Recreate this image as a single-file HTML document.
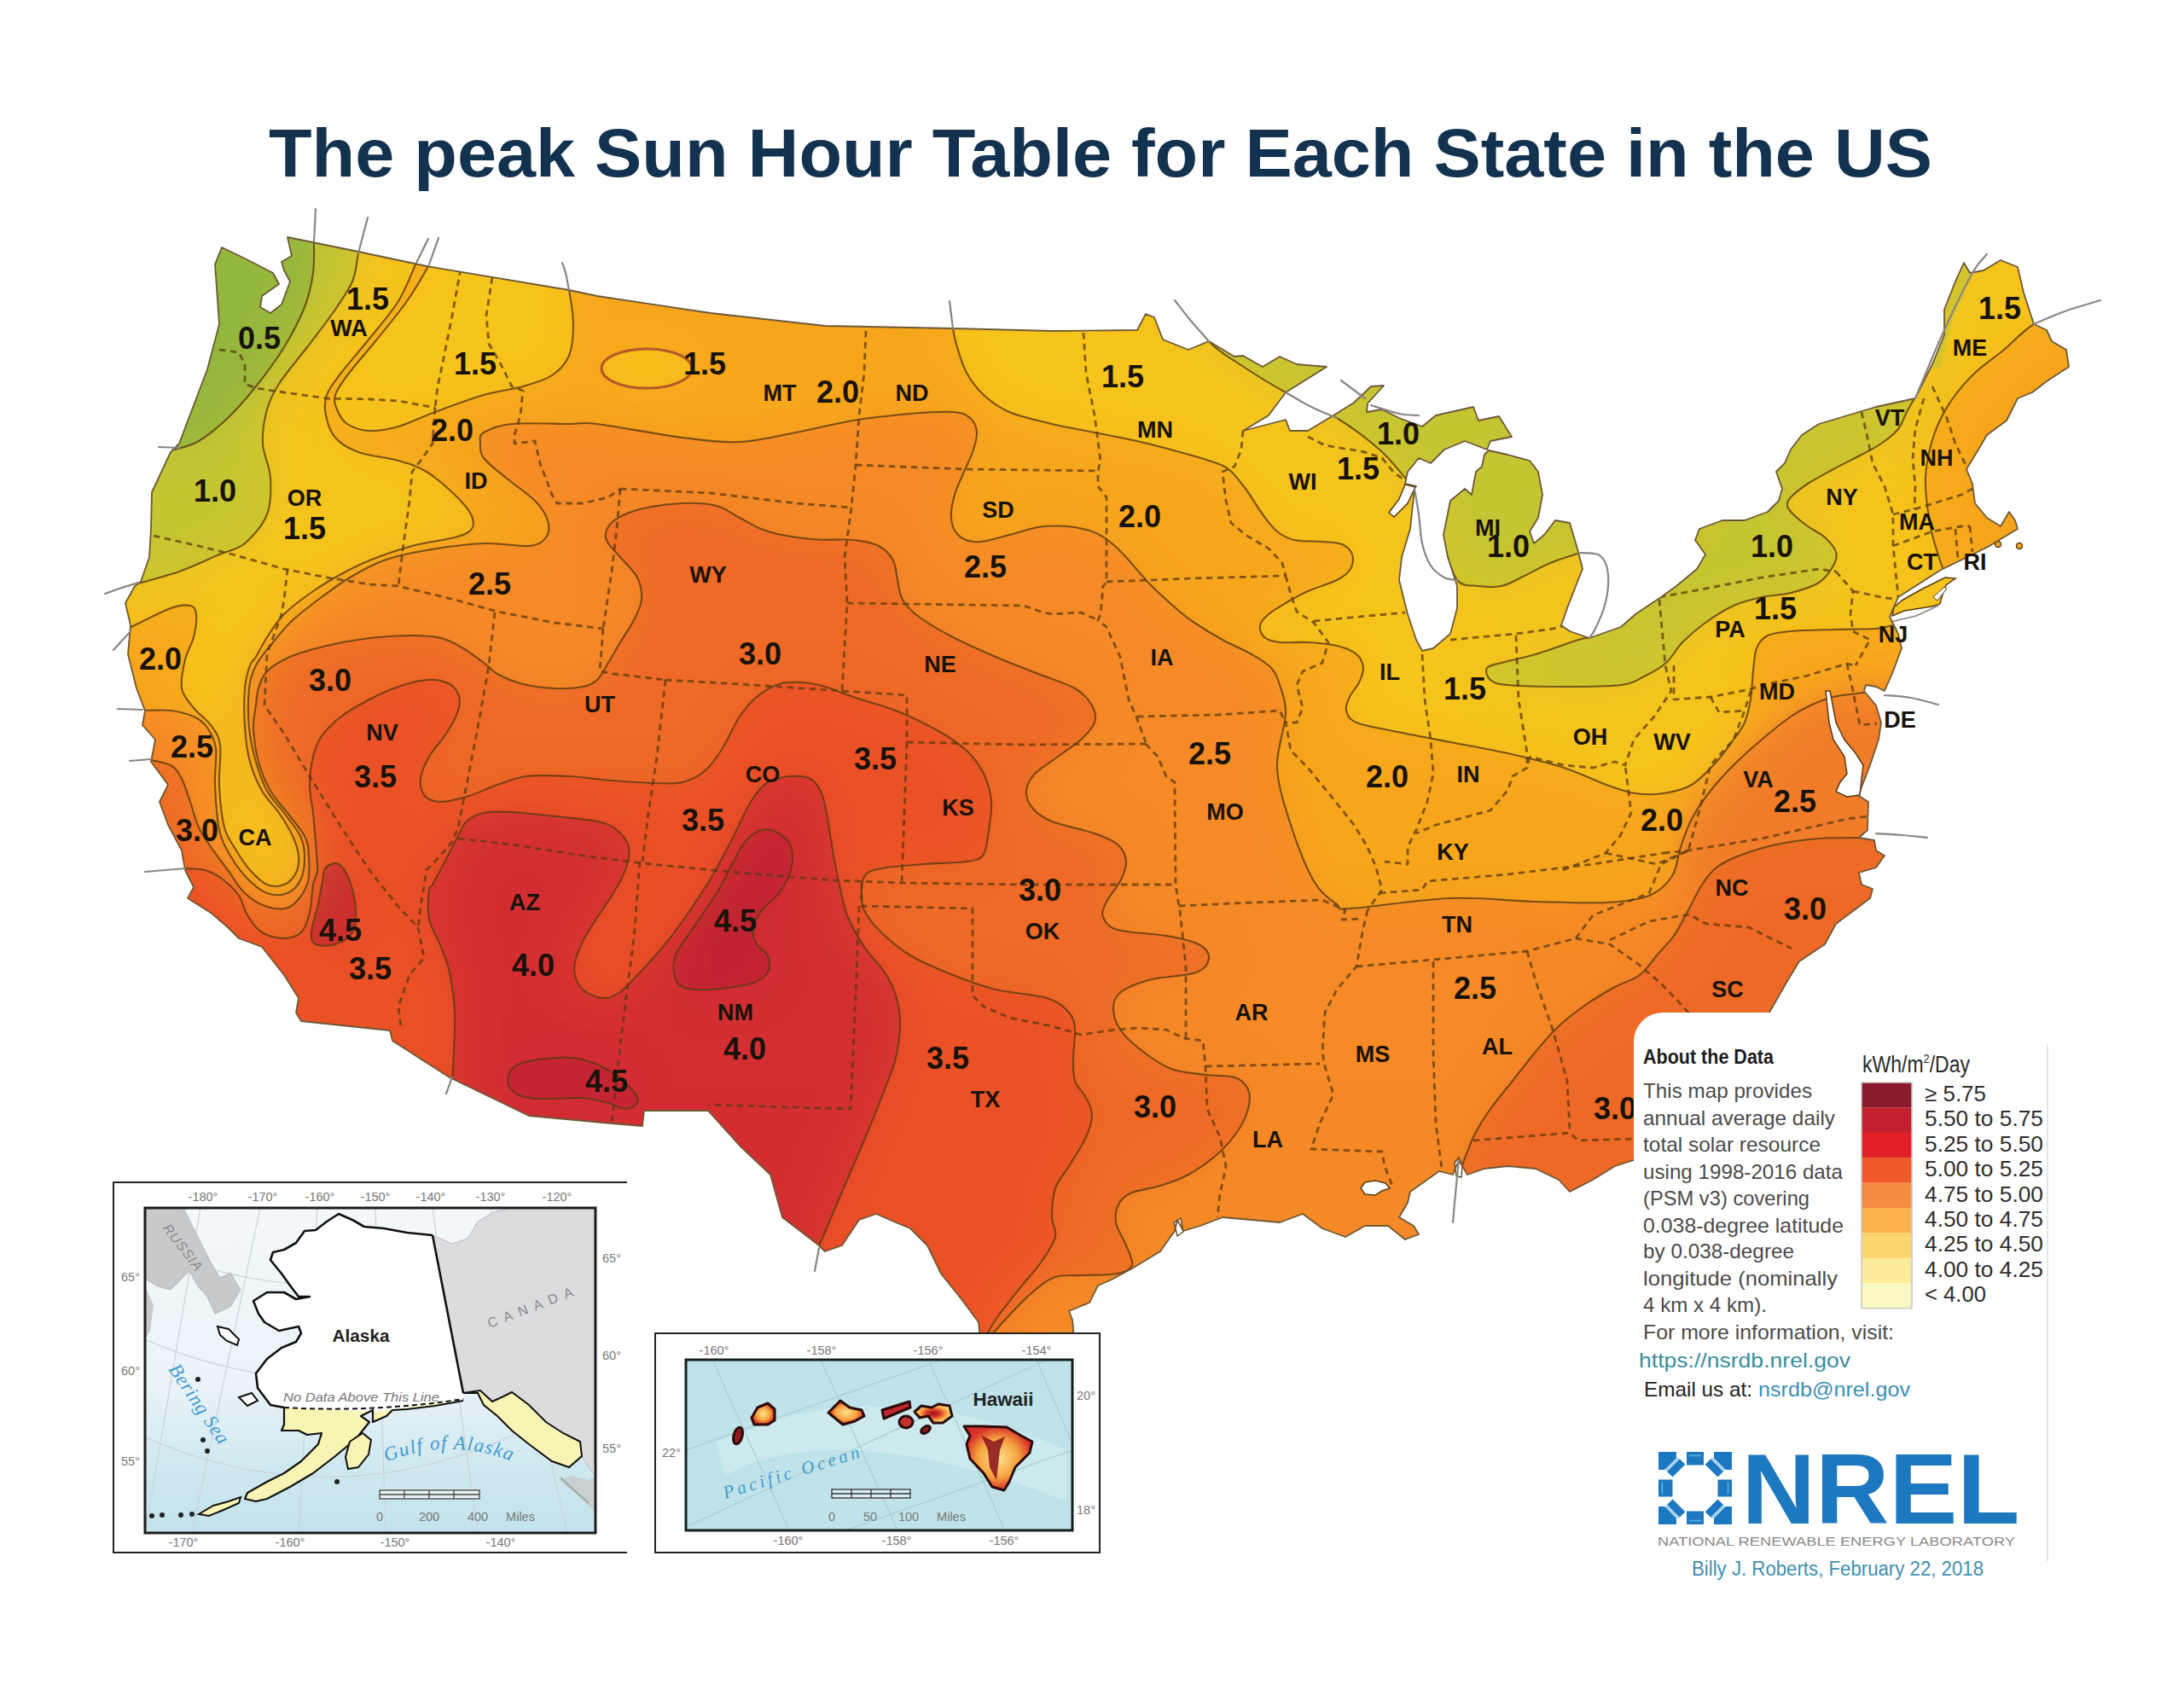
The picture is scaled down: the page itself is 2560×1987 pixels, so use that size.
<!DOCTYPE html>
<html><head><meta charset="utf-8"><title>Peak Sun Hours</title>
<style>
html,body{margin:0;padding:0;background:#fff;}
body{width:2560px;height:1987px;overflow:hidden;font-family:"Liberation Sans",sans-serif;}
svg{display:block}
text{font-family:"Liberation Sans",sans-serif;}
.st{font-weight:700;font-size:27px;fill:#17120a;text-anchor:middle}
.nm{font-weight:700;font-size:36px;fill:#17120a;text-anchor:middle}
.ser{font-family:"Liberation Serif",serif;font-style:italic}
</style></head><body>
<svg width="2560" height="1987" viewBox="0 0 2560 1987">
<defs>
<clipPath id="us"><path d="M260,290 L287,303 L320,320 L327,333 L307,347 L305,360 L317,367 L330,357 L340,330 L333,317 L330,307 L342,300 L337,278 L420,295 L500,312 L667,340 L700,347 L833,367 L967,382 L1117,385 L1233,388 L1333,387 L1343,368 L1353,372 L1363,398 L1393,410 L1417,400 L1447,418 L1457,417 L1480,430 L1500,418 L1520,427 L1555,430 L1507,460 L1487,487 L1457,505 L1507,492 L1512,505 L1533,505 L1563,487 L1587,472 L1607,453 L1622,452 L1603,473 L1602,483 L1620,480 L1640,490 L1667,500 L1683,487 L1727,477 L1733,493 L1757,488 L1772,512 L1747,517 L1743,527 L1717,517 L1693,527 L1677,543 L1663,537 L1650,553 L1647,567 L1660,570 L1658,573 L1653,620 L1643,653 L1640,680 L1650,720 L1660,750 L1667,763 L1680,760 L1700,743 L1708,713 L1708,687 L1697,653 L1692,627 L1700,587 L1717,573 L1725,580 L1730,553 L1737,547 L1740,533 L1745,528 L1767,533 L1793,540 L1803,553 L1808,580 L1803,607 L1793,623 L1798,637 L1810,627 L1823,610 L1840,613 L1850,647 L1855,667 L1847,687 L1837,713 L1830,733 L1840,740 L1863,748 L1900,735 L1917,720 L1947,700 L1965,687 L1989,667 L1999,650 L1987,633 L1992,620 L2019,610 L2045,610 L2072,600 L2085,587 L2089,573 L2082,553 L2092,543 L2099,527 L2112,510 L2132,497 L2179,483 L2199,477 L2245,467 L2265,427 L2279,393 L2279,363 L2292,330 L2302,308 L2309,320 L2325,317 L2345,305 L2365,313 L2372,343 L2384,380 L2399,387 L2405,400 L2422,410 L2425,430 L2399,447 L2382,460 L2365,467 L2352,493 L2329,510 L2319,527 L2305,550 L2312,567 L2315,590 L2329,607 L2345,617 L2355,600 L2362,610 L2365,620 L2345,632 L2332,640 L2312,650 L2275,668 L2225,700 L2215,723 L2225,743 L2229,760 L2219,787 L2209,810 L2199,805 L2187,803 L2185,810 L2199,827 L2205,847 L2202,867 L2192,897 L2182,923 L2179,933 L2190,940 L2189,973 L2179,982 L2197,985 L2199,997 L2209,1003 L2199,1017 L2179,1023 L2182,1037 L2195,1042 L2192,1053 L2152,1083 L2139,1107 L2109,1127 L2095,1150 L2075,1185 L2050,1230 L2000,1300 L1950,1380 L1915,1360 L1893,1367 L1867,1383 L1840,1397 L1827,1383 L1800,1370 L1767,1367 L1740,1370 L1720,1377 L1710,1360 L1703,1377 L1687,1373 L1653,1397 L1650,1410 L1640,1427 L1657,1437 L1663,1447 L1647,1453 L1627,1437 L1600,1437 L1577,1450 L1550,1440 L1527,1423 L1500,1433 L1467,1430 L1433,1427 L1407,1437 L1387,1443 L1380,1430 L1377,1443 L1360,1467 L1327,1487 L1303,1500 L1287,1507 L1277,1527 L1253,1537 L1257,1547 L1260,1580 L1150,1580 L1147,1550 L1127,1523 L1103,1493 L1087,1460 L1067,1440 L1050,1433 L1027,1423 L1007,1430 L987,1460 L967,1467 L960,1460 L917,1427 L903,1377 L867,1343 L830,1302 L755,1302 L753,1320 L717,1317 L620,1308 L527,1263 L460,1220 L457,1208 L353,1197 L347,1187 L350,1170 L333,1143 L307,1110 L280,1100 L267,1087 L247,1070 L220,1053 L227,1040 L217,1020 L213,997 L197,967 L187,940 L197,920 L177,893 L182,867 L167,850 L170,833 L160,807 L150,767 L153,733 L147,707 L158,687 L165,682 L175,653 L177,620 L178,577 L200,530 L210,520 L243,433 L257,380 L252,310Z"/></clipPath>
<filter id="soft" x="0" y="0" width="100%" height="100%"><feGaussianBlur stdDeviation="1.2"/></filter>
<filter id="soft8" x="-20%" y="-20%" width="140%" height="140%"><feGaussianBlur stdDeviation="14"/></filter>
<filter id="big" x="0" y="0" width="100%" height="100%"><feGaussianBlur stdDeviation="32"/></filter>
</defs>
<rect width="2560" height="1987" fill="#ffffff"/>

<text x="1290" y="207" text-anchor="middle" font-weight="700" font-size="80" fill="#12324f" textLength="1950" lengthAdjust="spacingAndGlyphs">The peak Sun Hour Table for Each State in the US</text>
<defs><g id="fills">
<rect x="-100" y="0" width="2760" height="1987" fill="#f7a61f"/>
<path d="M500,282 C498.0,286.3 493.5,296.2 488,308 C482.5,319.8 476.2,338.2 467,353 C457.8,367.8 444.2,383.0 433,397 C421.8,411.0 408.3,426.0 400,437 C391.7,448.0 386.0,454.7 383,463 C380.0,471.3 380.3,478.7 382,487 C383.7,495.3 386.7,505.8 393,513 C399.3,520.2 407.7,525.5 420,530 C432.3,534.5 453.7,536.2 467,540 C480.3,543.8 489.0,546.3 500,553 C511.0,559.7 524.3,571.7 533,580 C541.7,588.3 548.7,596.3 552,603 C555.3,609.7 556.2,615.5 553,620 C549.8,624.5 544.7,626.7 533,630 C521.3,633.3 499.7,635.5 483,640 C466.3,644.5 446.8,651.5 433,657 C419.2,662.5 411.0,667.0 400,673 C389.0,679.0 378.2,685.2 367,693 C355.8,700.8 342.0,711.0 333,720 C324.0,729.0 318.5,738.7 313,747 C307.5,755.3 303.3,764.5 300,770 C296.7,775.5 295.2,773.8 293,780 C290.8,786.2 288.0,794.8 287,807 C286.0,819.2 286.0,838.7 287,853 C288.0,867.3 289.7,880.7 293,893 C296.3,905.3 301.3,917.0 307,927 C312.7,937.0 321.0,944.2 327,953 C333.0,961.8 339.2,971.7 343,980 C346.8,988.3 349.3,995.8 350,1003 C350.7,1010.2 349.8,1017.3 347,1023 C344.2,1028.7 338.7,1034.7 333,1037 C327.3,1039.3 319.7,1039.8 313,1037 C306.3,1034.2 299.0,1026.7 293,1020 C287.0,1013.3 282.0,1005.3 277,997 C272.0,988.7 266.3,982.8 263,970 C259.7,957.2 257.8,936.2 257,920 C256.2,903.8 259.7,884.7 258,873 C256.3,861.3 252.2,857.2 247,850 C241.8,842.8 232.7,837.2 227,830 C221.3,822.8 214.7,816.5 213,807 C211.3,797.5 214.7,783.0 217,773 C219.3,763.0 224.8,755.8 227,747 C229.2,738.2 230.7,726.2 230,720 C229.3,713.8 228.0,711.2 223,710 C218.0,708.8 212.2,708.5 200,713 C187.8,717.5 158.3,733.0 150,737 L-60,737 L-60,60 L500,60Z" fill="#f6c41e"/>
<path d="M515,282 C513.0,286.7 509.3,298.2 503,310 C496.7,321.8 487.5,338.0 477,353 C466.5,368.0 451.7,385.5 440,400 C428.3,414.5 414.8,429.5 407,440 C399.2,450.5 395.0,456.3 393,463 C391.0,469.7 392.7,474.3 395,480 C397.3,485.7 400.7,492.8 407,497 C413.3,501.2 423.0,504.5 433,505 C443.0,505.5 454.2,503.7 467,500 C479.8,496.3 493.3,489.2 510,483 C526.7,476.8 549.8,468.0 567,463 C584.2,458.0 599.7,456.8 613,453 C626.3,449.2 638.0,446.0 647,440 C656.0,434.0 662.8,427.0 667,417 C671.2,407.0 672.0,392.8 672,380 C672.0,367.2 669.0,351.7 667,340 C665.0,328.3 661.2,315.0 660,310 L660,60 L515,60Z" fill="#f6c41e"/>
<path d="M1117,370 C1117.0,372.5 1116.2,378.8 1117,385 C1117.8,391.2 1119.3,398.3 1122,407 C1124.7,415.7 1127.8,427.7 1133,437 C1138.2,446.3 1144.7,455.3 1153,463 C1161.3,470.7 1169.7,477.3 1183,483 C1196.3,488.7 1216.3,493.0 1233,497 C1249.7,501.0 1266.3,503.7 1283,507 C1299.7,510.3 1316.3,513.2 1333,517 C1349.7,520.8 1369.0,526.2 1383,530 C1397.0,533.8 1407.5,536.7 1417,540 C1426.5,543.3 1432.8,544.5 1440,550 C1447.2,555.5 1453.3,564.2 1460,573 C1466.7,581.8 1473.8,594.7 1480,603 C1486.2,611.3 1490.8,618.0 1497,623 C1503.2,628.0 1508.2,631.0 1517,633 C1525.8,635.0 1540.7,634.2 1550,635 C1559.3,635.8 1567.2,635.5 1573,638 C1578.8,640.5 1583.3,645.2 1585,650 C1586.7,654.8 1586.0,662.0 1583,667 C1580.0,672.0 1575.3,675.7 1567,680 C1558.7,684.3 1543.0,688.5 1533,693 C1523.0,697.5 1514.7,702.5 1507,707 C1499.3,711.5 1492.0,715.7 1487,720 C1482.0,724.3 1477.8,728.5 1477,733 C1476.2,737.5 1478.2,743.7 1482,747 C1485.8,750.3 1491.5,752.0 1500,753 C1508.5,754.0 1521.8,752.3 1533,753 C1544.2,753.7 1557.5,754.7 1567,757 C1576.5,759.3 1584.8,762.7 1590,767 C1595.2,771.3 1597.5,777.5 1598,783 C1598.5,788.5 1595.7,794.3 1593,800 C1590.3,805.7 1584.5,811.5 1582,817 C1579.5,822.5 1576.7,828.0 1578,833 C1579.3,838.0 1580.8,843.0 1590,847 C1599.2,851.0 1614.7,853.2 1633,857 C1651.3,860.8 1677.7,865.7 1700,870 C1722.3,874.3 1744.8,878.0 1767,883 C1789.2,888.0 1813.7,893.8 1833,900 C1852.3,906.2 1869.0,915.0 1883,920 C1897.0,925.0 1905.8,928.3 1917,930 C1928.2,931.7 1939.0,931.7 1950,930 C1961.0,928.3 1972.7,926.2 1983,920 C1993.3,913.8 2003.8,901.8 2012,893 C2020.2,884.2 2026.5,874.7 2032,867 C2037.5,859.3 2041.7,854.8 2045,847 C2048.3,839.2 2050.3,830.0 2052,820 C2053.7,810.0 2053.8,797.0 2055,787 C2056.2,777.0 2056.2,767.0 2059,760 C2061.8,753.0 2065.3,748.3 2072,745 C2078.7,741.7 2086.2,741.2 2099,740 C2111.8,738.8 2132.3,738.5 2149,738 C2165.7,737.5 2187.5,737.8 2199,737 C2210.5,736.2 2214.8,733.7 2218,733 L2230,740 L2300,700 L2279,670 L2275,660 L2265,627 L2259,593 L2257,560 L2262,527 L2272,497 L2289,467 L2315,437 L2349,410 L2384,380 L2440,352 L2600,60 L1117,60Z" fill="#f6c41e"/>
<ellipse cx="758" cy="432" rx="53" ry="23" fill="#f6c41e"/>
<path d="M428,262 C426.7,267.8 422.5,285.7 420,297 C417.5,308.3 418.0,318.3 413,330 C408.0,341.7 398.8,354.2 390,367 C381.2,379.8 370.5,393.2 360,407 C349.5,420.8 334.8,437.8 327,450 C319.2,462.2 316.2,468.3 313,480 C309.8,491.7 307.3,506.7 308,520 C308.7,533.3 316.2,546.2 317,560 C317.8,573.8 318.0,590.2 313,603 C308.0,615.8 296.3,629.2 287,637 C277.7,644.8 269.8,644.5 257,650 C244.2,655.5 227.0,664.0 210,670 C193.0,676.0 164.2,683.3 155,686 L-60,686 L-60,60 L428,60Z" fill="#c4c630"/>
<path d="M368,260 C368.0,263.8 368.2,273.0 368,283 C367.8,293.0 368.8,307.2 367,320 C365.2,332.8 362.7,345.5 357,360 C351.3,374.5 342.5,391.5 333,407 C323.5,422.5 311.0,439.2 300,453 C289.0,466.8 278.2,479.3 267,490 C255.8,500.7 243.3,510.8 233,517 C222.7,523.2 209.7,525.3 205,527 L-60,527 L-60,60 L368,60Z" fill="#93b73d"/>
<path d="M1380,350 C1386.2,358.3 1405.3,387.5 1417,400 C1428.7,412.5 1435.0,415.0 1450,425 C1465.0,435.0 1487.5,449.2 1507,460 C1526.5,470.8 1548.7,478.8 1567,490 C1585.3,501.2 1603.7,515.3 1617,527 C1630.3,538.7 1639.8,552.0 1647,560 C1654.2,568.0 1652.8,568.3 1660,575 C1667.2,581.7 1684.7,589.7 1690,600 C1695.3,610.3 1689.0,623.7 1692,637 C1695.0,650.3 1701.2,671.7 1708,680 C1714.8,688.3 1724.3,685.8 1733,687 C1741.7,688.2 1751.7,688.7 1760,687 C1768.3,685.3 1773.5,681.5 1783,677 C1792.5,672.5 1805.5,664.8 1817,660 C1828.5,655.2 1846.2,650.0 1852,648 L1900,640 L1900,400 L1700,200 L1380,200Z" fill="#c4c630"/>
<path d="M1743,783 C1745.2,779.7 1750.5,779.7 1760,777 C1769.5,774.3 1785.0,771.5 1800,767 C1815.0,762.5 1839.5,753.2 1850,750 C1860.5,746.8 1854.7,756.3 1863,748 C1871.3,739.7 1878.8,724.7 1900,700 C1921.2,675.3 1956.7,636.7 1990,600 C2023.3,563.3 2057.5,506.7 2100,480 C2142.5,453.3 2221.0,442.2 2245,440 C2269.0,437.8 2245.7,459.8 2244,467 C2242.3,474.2 2238.2,477.0 2235,483 C2231.8,489.0 2230.0,496.8 2225,503 C2220.0,509.2 2212.2,515.0 2205,520 C2197.8,525.0 2191.3,528.0 2182,533 C2172.7,538.0 2159.5,544.3 2149,550 C2138.5,555.7 2127.3,561.5 2119,567 C2110.7,572.5 2103.0,578.7 2099,583 C2095.0,587.3 2094.5,589.7 2095,593 C2095.5,596.3 2098.0,599.0 2102,603 C2106.0,607.0 2112.8,612.5 2119,617 C2125.2,621.5 2133.5,625.0 2139,630 C2144.5,635.0 2150.3,641.5 2152,647 C2153.7,652.5 2152.3,657.0 2149,663 C2145.7,669.0 2140.3,677.7 2132,683 C2123.7,688.3 2110.2,692.2 2099,695 C2087.8,697.8 2076.2,697.5 2065,700 C2053.8,702.5 2043.0,705.0 2032,710 C2021.0,715.0 2009.0,722.8 1999,730 C1989.0,737.2 1979.7,745.2 1972,753 C1964.3,760.8 1960.5,770.3 1953,777 C1945.5,783.7 1935.8,788.7 1927,793 C1918.2,797.3 1915.7,801.0 1900,803 C1884.3,805.0 1855.2,805.0 1833,805 C1810.8,805.0 1781.3,804.3 1767,803 C1752.7,801.7 1751.0,800.3 1747,797 C1743.0,793.7 1740.8,786.3 1743,783Z" fill="#c4c630"/>
<path d="M2300,300 L2275,365 L2262,430 L2274,432 L2290,372 L2314,318Z" fill="#c4c630"/>
<path d="M165,833 C170.8,833.0 189.7,831.8 200,833 C210.3,834.2 219.8,836.7 227,840 C234.2,843.3 238.7,846.8 243,853 C247.3,859.2 251.5,865.8 253,877 C254.5,888.2 251.3,904.0 252,920 C252.7,936.0 254.0,959.2 257,973 C260.0,986.8 264.5,993.5 270,1003 C275.5,1012.5 282.8,1022.7 290,1030 C297.2,1037.3 305.2,1044.2 313,1047 C320.8,1049.8 330.3,1049.8 337,1047 C343.7,1044.2 349.7,1037.3 353,1030 C356.3,1022.7 357.2,1011.3 357,1003 C356.8,994.7 356.0,988.3 352,980 C348.0,971.7 339.5,961.8 333,953 C326.5,944.2 318.5,937.0 313,927 C307.5,917.0 303.5,905.3 300,893 C296.5,880.7 293.3,867.3 292,853 C290.7,838.7 290.7,819.2 292,807 C293.3,794.8 295.3,789.0 300,780 C304.7,771.0 312.8,761.8 320,753 C327.2,744.2 333.5,735.8 343,727 C352.5,718.2 365.8,708.3 377,700 C388.2,691.7 397.8,684.2 410,677 C422.2,669.8 435.0,662.3 450,657 C465.0,651.7 480.5,648.3 500,645 C519.5,641.7 547.0,637.8 567,637 C587.0,636.2 607.8,641.2 620,640 C632.2,638.8 636.3,635.0 640,630 C643.7,625.0 644.2,617.2 642,610 C639.8,602.8 635.2,595.3 627,587 C618.8,578.7 603.0,568.3 593,560 C583.0,551.7 572.0,543.7 567,537 C562.0,530.3 563.0,525.0 563,520 C563.0,515.0 560.8,510.8 567,507 C573.2,503.2 583.3,498.7 600,497 C616.7,495.3 650.3,497.0 667,497 C683.7,497.0 677.8,494.3 700,497 C722.2,499.7 772.2,509.5 800,513 C827.8,516.5 844.8,519.0 867,518 C889.2,517.0 910.8,511.2 933,507 C955.2,502.8 977.7,496.7 1000,493 C1022.3,489.3 1047.5,486.7 1067,485 C1086.5,483.3 1105.3,482.2 1117,483 C1128.7,483.8 1132.3,486.0 1137,490 C1141.7,494.0 1144.5,500.3 1145,507 C1145.5,513.7 1142.5,522.3 1140,530 C1137.5,537.7 1133.3,545.2 1130,553 C1126.7,560.8 1122.5,569.2 1120,577 C1117.5,584.8 1115.3,592.8 1115,600 C1114.7,607.2 1115.5,614.7 1118,620 C1120.5,625.3 1124.7,629.5 1130,632 C1135.3,634.5 1141.2,635.8 1150,635 C1158.8,634.2 1171.8,629.8 1183,627 C1194.2,624.2 1205.8,619.7 1217,618 C1228.2,616.3 1240.0,616.3 1250,617 C1260.0,617.7 1269.2,619.5 1277,622 C1284.8,624.5 1290.3,627.3 1297,632 C1303.7,636.7 1308.2,640.8 1317,650 C1325.8,659.2 1339.0,675.8 1350,687 C1361.0,698.2 1374.7,709.8 1383,717 C1391.3,724.2 1391.7,724.5 1400,730 C1408.3,735.5 1421.8,743.8 1433,750 C1444.2,756.2 1457.5,761.5 1467,767 C1476.5,772.5 1484.5,777.0 1490,783 C1495.5,789.0 1497.2,794.0 1500,803 C1502.8,812.0 1507.5,820.8 1507,837 C1506.5,853.2 1496.0,878.3 1497,900 C1498.0,921.7 1505.8,944.8 1513,967 C1520.2,989.2 1531.0,1017.5 1540,1033 C1549.0,1048.5 1559.8,1054.7 1567,1060 C1574.2,1065.3 1560.8,1066.2 1583,1065 C1605.2,1063.8 1663.8,1054.3 1700,1053 C1736.2,1051.7 1769.5,1056.2 1800,1057 C1830.5,1057.8 1860.8,1059.2 1883,1058 C1905.2,1056.8 1920.2,1055.2 1933,1050 C1945.8,1044.8 1953.8,1036.5 1960,1027 C1966.2,1017.5 1966.2,1004.2 1970,993 C1973.8,981.8 1977.2,971.0 1983,960 C1988.8,949.0 1996.8,937.5 2005,927 C2013.2,916.5 2022.0,907.0 2032,897 C2042.0,887.0 2053.8,876.5 2065,867 C2076.2,857.5 2089.5,846.7 2099,840 C2108.5,833.3 2113.7,830.8 2122,827 C2130.3,823.2 2138.5,819.5 2149,817 C2159.5,814.5 2179.0,812.8 2185,812 L2700,812 L2700,1900 L-60,1900 L-60,833Z" fill="#f58a27"/>
<path d="M1975,1010 C1976.3,990.8 1978.0,973.8 1983,960 C1988.0,946.2 1996.8,937.5 2005,927 C2013.2,916.5 2022.0,907.0 2032,897 C2042.0,887.0 2053.8,876.5 2065,867 C2076.2,857.5 2089.5,846.7 2099,840 C2108.5,833.3 2113.7,830.8 2122,827 C2130.3,823.2 2138.5,819.5 2149,817 C2159.5,814.5 2143.2,812.8 2185,812 C2226.8,811.2 2364.2,783.7 2400,812 C2435.8,840.3 2435.8,953.7 2400,982 C2364.2,1010.3 2229.7,981.8 2185,982 C2140.3,982.2 2149.2,981.7 2132,983 C2114.8,984.3 2097.5,986.7 2082,990 C2066.5,993.3 2050.7,998.5 2039,1003 C2027.3,1007.5 2019.3,1011.3 2012,1017 C2004.7,1022.7 2001.2,1027.3 1995,1037 C1988.8,1046.7 1978.3,1079.5 1975,1075 C1971.7,1070.5 1973.7,1029.2 1975,1010Z" fill="#f17d2a" filter="url(#soft8)"/>
<path d="M172,890 C176.7,891.2 193.2,893.2 200,897 C206.8,900.8 209.2,905.8 213,913 C216.8,920.2 219.7,930.5 223,940 C226.3,949.5 228.5,960.5 233,970 C237.5,979.5 244.3,988.7 250,997 C255.7,1005.3 260.8,1011.7 267,1020 C273.2,1028.3 279.3,1039.8 287,1047 C294.7,1054.2 304.2,1060.3 313,1063 C321.8,1065.7 332.2,1067.3 340,1063 C347.8,1058.7 356.3,1047.0 360,1037 C363.7,1027.0 362.5,1012.5 362,1003 C361.5,993.5 361.2,988.3 357,980 C352.8,971.7 343.7,961.8 337,953 C330.3,944.2 322.7,937.0 317,927 C311.3,917.0 306.3,905.3 303,893 C299.7,880.7 297.5,864.0 297,853 C296.5,842.0 299.0,834.7 300,827 C301.0,819.3 300.8,813.7 303,807 C305.2,800.3 306.8,793.2 313,787 C319.2,780.8 328.3,775.0 340,770 C351.7,765.0 367.5,760.7 383,757 C398.5,753.3 416.3,750.0 433,748 C449.7,746.0 469.0,745.0 483,745 C497.0,745.0 507.0,745.5 517,748 C527.0,750.5 534.7,755.2 543,760 C551.3,764.8 560.3,772.0 567,777 C573.7,782.0 575.3,785.8 583,790 C590.7,794.2 601.8,799.2 613,802 C624.2,804.8 638.3,806.5 650,807 C661.7,807.5 674.7,806.7 683,805 C691.3,803.3 695.0,801.7 700,797 C705.0,792.3 708.5,784.3 713,777 C717.5,769.7 722.0,761.3 727,753 C732.0,744.7 738.8,735.3 743,727 C747.2,718.7 751.3,711.3 752,703 C752.7,694.7 751.2,685.3 747,677 C742.8,668.7 732.7,659.7 727,653 C721.3,646.3 715.8,641.7 713,637 C710.2,632.3 708.8,629.5 710,625 C711.2,620.5 713.3,614.7 720,610 C726.7,605.3 736.7,600.3 750,597 C763.3,593.7 785.0,590.7 800,590 C815.0,589.3 828.8,590.2 840,593 C851.2,595.8 857.0,602.0 867,607 C877.0,612.0 886.2,618.8 900,623 C913.8,627.2 933.3,630.3 950,632 C966.7,633.7 986.7,631.7 1000,633 C1013.3,634.3 1022.2,636.0 1030,640 C1037.8,644.0 1043.3,650.3 1047,657 C1050.7,663.7 1050.2,672.3 1052,680 C1053.8,687.7 1053.8,695.8 1058,703 C1062.2,710.2 1067.2,715.7 1077,723 C1086.8,730.3 1102.0,739.2 1117,747 C1132.0,754.8 1150.3,762.8 1167,770 C1183.7,777.2 1201.5,783.8 1217,790 C1232.5,796.2 1249.5,800.8 1260,807 C1270.5,813.2 1276.2,820.3 1280,827 C1283.8,833.7 1285.2,840.3 1283,847 C1280.8,853.7 1274.2,860.3 1267,867 C1259.8,873.7 1249.0,880.3 1240,887 C1231.0,893.7 1219.2,900.3 1213,907 C1206.8,913.7 1203.5,920.3 1203,927 C1202.5,933.7 1205.0,941.0 1210,947 C1215.0,953.0 1220.8,958.0 1233,963 C1245.2,968.0 1270.2,972.5 1283,977 C1295.8,981.5 1303.8,984.5 1310,990 C1316.2,995.5 1319.5,1002.8 1320,1010 C1320.5,1017.2 1316.8,1025.2 1313,1033 C1309.2,1040.8 1300.3,1050.0 1297,1057 C1293.7,1064.0 1290.8,1069.5 1293,1075 C1295.2,1080.5 1297.7,1086.3 1310,1090 C1322.3,1093.7 1351.2,1094.2 1367,1097 C1382.8,1099.8 1396.7,1102.7 1405,1107 C1413.3,1111.3 1417.5,1117.5 1417,1123 C1416.5,1128.5 1413.2,1135.8 1402,1140 C1390.8,1144.2 1364.5,1144.3 1350,1148 C1335.5,1151.7 1322.5,1156.7 1315,1162 C1307.5,1167.3 1305.3,1172.5 1305,1180 C1304.7,1187.5 1307.2,1198.2 1313,1207 C1318.8,1215.8 1330.0,1225.3 1340,1233 C1350.0,1240.7 1360.8,1248.5 1373,1253 C1385.2,1257.5 1400.7,1258.3 1413,1260 C1425.3,1261.7 1438.7,1260.2 1447,1263 C1455.3,1265.8 1460.3,1270.8 1463,1277 C1465.7,1283.2 1465.2,1291.7 1463,1300 C1460.8,1308.3 1456.0,1318.2 1450,1327 C1444.0,1335.8 1436.5,1344.7 1427,1353 C1417.5,1361.3 1404.2,1370.8 1393,1377 C1381.8,1383.2 1371.0,1386.5 1360,1390 C1349.0,1393.5 1335.0,1394.7 1327,1398 C1319.0,1401.3 1315.2,1404.2 1312,1410 C1308.8,1415.8 1306.7,1424.7 1308,1433 C1309.3,1441.3 1316.8,1451.7 1320,1460 C1323.2,1468.3 1328.7,1477.5 1327,1483 C1325.3,1488.5 1319.5,1491.0 1310,1493 C1300.5,1495.0 1282.2,1494.3 1270,1495 C1257.8,1495.7 1247.0,1493.7 1237,1497 C1227.0,1500.3 1219.5,1507.0 1210,1515 C1200.5,1523.0 1188.3,1536.2 1180,1545 C1171.7,1553.8 1163.3,1564.2 1160,1568 L1160,1900 L-60,1900 L-60,890Z" fill="#ee6b27"/>
<path d="M2185,982 C2176.2,982.2 2149.2,981.7 2132,983 C2114.8,984.3 2097.5,986.7 2082,990 C2066.5,993.3 2050.7,998.5 2039,1003 C2027.3,1007.5 2019.3,1011.3 2012,1017 C2004.7,1022.7 2000.5,1028.7 1995,1037 C1989.5,1045.3 1984.5,1057.0 1979,1067 C1973.5,1077.0 1968.2,1088.2 1962,1097 C1955.8,1105.8 1948.7,1112.3 1942,1120 C1935.3,1127.7 1930.2,1136.8 1922,1143 C1913.8,1149.2 1903.3,1151.3 1893,1157 C1882.7,1162.7 1871.0,1169.3 1860,1177 C1849.0,1184.7 1837.0,1193.7 1827,1203 C1817.0,1212.3 1809.0,1222.3 1800,1233 C1791.0,1243.7 1781.8,1255.8 1773,1267 C1764.2,1278.2 1754.2,1290.0 1747,1300 C1739.8,1310.0 1734.5,1318.7 1730,1327 C1725.5,1335.3 1723.0,1342.5 1720,1350 C1717.0,1357.5 1713.3,1368.3 1712,1372 L1712,1700 L2700,1700 L2700,982Z" fill="#ee6b27"/>
<path d="M212,1018 C216.7,1018.3 232.0,1018.0 240,1020 C248.0,1022.0 253.3,1025.0 260,1030 C266.7,1035.0 275.0,1042.8 280,1050 C285.0,1057.2 285.5,1065.8 290,1073 C294.5,1080.2 299.8,1088.5 307,1093 C314.2,1097.5 325.3,1100.0 333,1100 C340.7,1100.0 348.0,1098.0 353,1093 C358.0,1088.0 360.7,1079.3 363,1070 C365.3,1060.7 365.5,1045.3 367,1037 C368.5,1028.7 371.5,1028.3 372,1020 C372.5,1011.7 370.8,998.2 370,987 C369.2,975.8 368.2,964.2 367,953 C365.8,941.8 363.0,931.0 363,920 C363.0,909.0 364.7,896.5 367,887 C369.3,877.5 371.5,870.8 377,863 C382.5,855.2 390.7,847.2 400,840 C409.3,832.8 421.8,825.8 433,820 C444.2,814.2 455.8,808.8 467,805 C478.2,801.2 490.7,797.8 500,797 C509.3,796.2 516.8,797.3 523,800 C529.2,802.7 534.7,807.5 537,813 C539.3,818.5 539.3,825.2 537,833 C534.7,840.8 528.7,851.0 523,860 C517.3,869.0 508.0,878.2 503,887 C498.0,895.8 493.8,905.3 493,913 C492.2,920.7 494.0,928.5 498,933 C502.0,937.5 508.3,940.0 517,940 C525.7,940.0 539.0,936.3 550,933 C561.0,929.7 571.8,923.8 583,920 C594.2,916.2 603.0,911.7 617,910 C631.0,908.3 650.3,909.2 667,910 C683.7,910.8 700.3,913.7 717,915 C733.7,916.3 753.2,917.7 767,918 C780.8,918.3 790.0,919.5 800,917 C810.0,914.5 819.2,909.7 827,903 C834.8,896.3 840.3,887.5 847,877 C853.7,866.5 860.3,850.0 867,840 C873.7,830.0 879.3,823.3 887,817 C894.7,810.7 904.2,804.8 913,802 C921.8,799.2 931.0,799.5 940,800 C949.0,800.5 957.0,802.2 967,805 C977.0,807.8 986.2,812.3 1000,817 C1013.8,821.7 1033.3,826.3 1050,833 C1066.7,839.7 1086.2,849.2 1100,857 C1113.8,864.8 1124.2,871.7 1133,880 C1141.8,888.3 1148.2,897.0 1153,907 C1157.8,917.0 1161.2,927.8 1162,940 C1162.8,952.2 1159.7,969.5 1158,980 C1156.3,990.5 1156.2,998.0 1152,1003 C1147.8,1008.0 1144.5,1008.3 1133,1010 C1121.5,1011.7 1098.5,1011.8 1083,1013 C1067.5,1014.2 1051.0,1015.3 1040,1017 C1029.0,1018.7 1022.0,1019.2 1017,1023 C1012.0,1026.8 1010.7,1032.7 1010,1040 C1009.3,1047.3 1009.2,1058.2 1013,1067 C1016.8,1075.8 1024.0,1084.2 1033,1093 C1042.0,1101.8 1053.0,1111.7 1067,1120 C1081.0,1128.3 1100.3,1136.3 1117,1143 C1133.7,1149.7 1148.7,1155.5 1167,1160 C1185.3,1164.5 1212.7,1165.5 1227,1170 C1241.3,1174.5 1247.5,1180.8 1253,1187 C1258.5,1193.2 1259.2,1198.2 1260,1207 C1260.8,1215.8 1258.0,1230.0 1258,1240 C1258.0,1250.0 1257.5,1259.2 1260,1267 C1262.5,1274.8 1269.7,1280.3 1273,1287 C1276.3,1293.7 1280.0,1299.3 1280,1307 C1280.0,1314.7 1277.5,1323.0 1273,1333 C1268.5,1343.0 1259.0,1357.0 1253,1367 C1247.0,1377.0 1240.3,1383.0 1237,1393 C1233.7,1403.0 1233.0,1417.5 1233,1427 C1233.0,1436.5 1239.2,1441.2 1237,1450 C1234.8,1458.8 1227.3,1469.5 1220,1480 C1212.7,1490.5 1201.8,1501.8 1193,1513 C1184.2,1524.2 1173.3,1537.8 1167,1547 C1160.7,1556.2 1157.0,1564.5 1155,1568 L1155,1900 L-60,1900 L-60,1018Z" fill="#eb5127"/>
<path d="M530,1270 C530.3,1263.8 531.5,1246.8 532,1233 C532.5,1219.2 533.8,1202.5 533,1187 C532.2,1171.5 529.7,1152.8 527,1140 C524.3,1127.2 521.0,1120.5 517,1110 C513.0,1099.5 505.3,1088.2 503,1077 C500.7,1065.8 502.3,1049.7 503,1043 C503.7,1036.3 503.7,1043.0 507,1037 C510.3,1031.0 518.0,1016.5 523,1007 C528.0,997.5 533.0,987.3 537,980 C541.0,972.7 542.0,967.5 547,963 C552.0,958.5 558.2,954.8 567,953 C575.8,951.2 586.2,951.3 600,952 C613.8,952.7 633.3,955.2 650,957 C666.7,958.8 687.8,960.3 700,963 C712.2,965.7 716.8,968.0 723,973 C729.2,978.0 735.3,985.2 737,993 C738.7,1000.8 736.3,1010.5 733,1020 C729.7,1029.5 723.0,1040.0 717,1050 C711.0,1060.0 703.2,1070.0 697,1080 C690.8,1090.0 684.0,1100.5 680,1110 C676.0,1119.5 672.5,1128.7 673,1137 C673.5,1145.3 677.3,1154.5 683,1160 C688.7,1165.5 699.7,1169.5 707,1170 C714.3,1170.5 719.8,1168.0 727,1163 C734.2,1158.0 741.7,1148.8 750,1140 C758.3,1131.2 768.7,1120.0 777,1110 C785.3,1100.0 790.7,1093.3 800,1080 C809.3,1066.7 823.0,1046.7 833,1030 C843.0,1013.3 852.2,995.0 860,980 C867.8,965.0 873.3,950.5 880,940 C886.7,929.5 892.2,922.0 900,917 C907.8,912.0 918.7,910.7 927,910 C935.3,909.3 944.0,909.7 950,913 C956.0,916.3 959.7,922.2 963,930 C966.3,937.8 967.7,947.8 970,960 C972.3,972.2 974.8,990.8 977,1003 C979.2,1015.2 980.3,1021.3 983,1033 C985.7,1044.7 988.0,1060.2 993,1073 C998.0,1085.8 1005.7,1098.8 1013,1110 C1020.3,1121.2 1030.8,1130.5 1037,1140 C1043.2,1149.5 1047.0,1157.0 1050,1167 C1053.0,1177.0 1055.0,1187.8 1055,1200 C1055.0,1212.2 1053.0,1227.2 1050,1240 C1047.0,1252.8 1042.5,1262.5 1037,1277 C1031.5,1291.5 1024.3,1309.3 1017,1327 C1009.7,1344.7 1000.3,1365.8 993,1383 C985.7,1400.2 978.8,1416.3 973,1430 C967.2,1443.7 960.5,1459.2 958,1465 L900,1560 L600,1450 L530,1350Z" fill="#d32f33"/>
<path d="M873,987 C878.5,980.8 886.3,974.7 893,973 C899.7,971.3 907.3,973.7 913,977 C918.7,980.3 924.7,985.8 927,993 C929.3,1000.2 929.3,1011.0 927,1020 C924.7,1029.0 918.7,1039.2 913,1047 C907.3,1054.8 898.0,1060.3 893,1067 C888.0,1073.7 884.0,1080.3 883,1087 C882.0,1093.7 884.2,1101.5 887,1107 C889.8,1112.5 897.8,1114.5 900,1120 C902.2,1125.5 903.3,1134.5 900,1140 C896.7,1145.5 891.2,1149.7 880,1153 C868.8,1156.3 846.3,1159.3 833,1160 C819.7,1160.7 807.2,1160.3 800,1157 C792.8,1153.7 791.2,1146.7 790,1140 C788.8,1133.3 789.2,1125.8 793,1117 C796.8,1108.2 805.2,1098.7 813,1087 C820.8,1075.3 832.2,1059.8 840,1047 C847.8,1034.2 854.5,1020.0 860,1010 C865.5,1000.0 867.5,993.2 873,987Z" fill="#c02331"/>
<path d="M595,1267 C595.0,1261.2 597.8,1252.5 607,1248 C616.2,1243.5 637.3,1241.0 650,1240 C662.7,1239.0 671.8,1239.2 683,1242 C694.2,1244.8 707.0,1250.7 717,1257 C727.0,1263.3 738.0,1274.0 743,1280 C748.0,1286.0 748.7,1289.7 747,1293 C745.3,1296.3 738.7,1300.0 733,1300 C727.3,1300.0 721.3,1295.2 713,1293 C704.7,1290.8 696.3,1287.8 683,1287 C669.7,1286.2 645.7,1288.7 633,1288 C620.3,1287.3 613.3,1286.5 607,1283 C600.7,1279.5 595.0,1272.8 595,1267Z" fill="#c02331"/>
<path d="M382,1017 C385.2,1013.7 392.3,1010.3 397,1013 C401.7,1015.7 406.7,1024.0 410,1033 C413.3,1042.0 416.5,1057.0 417,1067 C417.5,1077.0 417.0,1086.3 413,1093 C409.0,1099.7 400.2,1104.7 393,1107 C385.8,1109.3 374.7,1109.3 370,1107 C365.3,1104.7 364.5,1100.8 365,1093 C365.5,1085.2 370.8,1070.0 373,1060 C375.2,1050.0 376.5,1040.2 378,1033 C379.5,1025.8 378.8,1020.3 382,1017Z" fill="#c02331"/>
</g></defs>
<g clip-path="url(#us)"><use href="#fills" filter="url(#big)"/><use href="#fills" opacity="0.62" filter="url(#soft)"/></g>
<g fill="none" stroke="#5a3a12" stroke-opacity="0.8" stroke-width="2.1" stroke-linejoin="round" stroke-linecap="round">
<g clip-path="url(#us)">
<path d="M368,260 C368.0,263.8 368.2,273.0 368,283 C367.8,293.0 368.8,307.2 367,320 C365.2,332.8 362.7,345.5 357,360 C351.3,374.5 342.5,391.5 333,407 C323.5,422.5 311.0,439.2 300,453 C289.0,466.8 278.2,479.3 267,490 C255.8,500.7 243.3,510.8 233,517 C222.7,523.2 209.7,525.3 205,527"/>
<path d="M428,262 C426.7,267.8 422.5,285.7 420,297 C417.5,308.3 418.0,318.3 413,330 C408.0,341.7 398.8,354.2 390,367 C381.2,379.8 370.5,393.2 360,407 C349.5,420.8 334.8,437.8 327,450 C319.2,462.2 316.2,468.3 313,480 C309.8,491.7 307.3,506.7 308,520 C308.7,533.3 316.2,546.2 317,560 C317.8,573.8 318.0,590.2 313,603 C308.0,615.8 296.3,629.2 287,637 C277.7,644.8 269.8,644.5 257,650 C244.2,655.5 227.0,664.0 210,670 C193.0,676.0 164.2,683.3 155,686"/>
<path d="M500,282 C498.0,286.3 493.5,296.2 488,308 C482.5,319.8 476.2,338.2 467,353 C457.8,367.8 444.2,383.0 433,397 C421.8,411.0 408.3,426.0 400,437 C391.7,448.0 386.0,454.7 383,463 C380.0,471.3 380.3,478.7 382,487 C383.7,495.3 386.7,505.8 393,513 C399.3,520.2 407.7,525.5 420,530 C432.3,534.5 453.7,536.2 467,540 C480.3,543.8 489.0,546.3 500,553 C511.0,559.7 524.3,571.7 533,580 C541.7,588.3 548.7,596.3 552,603 C555.3,609.7 556.2,615.5 553,620 C549.8,624.5 544.7,626.7 533,630 C521.3,633.3 499.7,635.5 483,640 C466.3,644.5 446.8,651.5 433,657 C419.2,662.5 411.0,667.0 400,673 C389.0,679.0 378.2,685.2 367,693 C355.8,700.8 342.0,711.0 333,720 C324.0,729.0 318.5,738.7 313,747 C307.5,755.3 303.3,764.5 300,770 C296.7,775.5 295.2,773.8 293,780 C290.8,786.2 288.0,794.8 287,807 C286.0,819.2 286.0,838.7 287,853 C288.0,867.3 289.7,880.7 293,893 C296.3,905.3 301.3,917.0 307,927 C312.7,937.0 321.0,944.2 327,953 C333.0,961.8 339.2,971.7 343,980 C346.8,988.3 349.3,995.8 350,1003 C350.7,1010.2 349.8,1017.3 347,1023 C344.2,1028.7 338.7,1034.7 333,1037 C327.3,1039.3 319.7,1039.8 313,1037 C306.3,1034.2 299.0,1026.7 293,1020 C287.0,1013.3 282.0,1005.3 277,997 C272.0,988.7 266.3,982.8 263,970 C259.7,957.2 257.8,936.2 257,920 C256.2,903.8 259.7,884.7 258,873 C256.3,861.3 252.2,857.2 247,850 C241.8,842.8 232.7,837.2 227,830 C221.3,822.8 214.7,816.5 213,807 C211.3,797.5 214.7,783.0 217,773 C219.3,763.0 224.8,755.8 227,747 C229.2,738.2 230.7,726.2 230,720 C229.3,713.8 228.0,711.2 223,710 C218.0,708.8 212.2,708.5 200,713 C187.8,717.5 158.3,733.0 150,737"/>
<path d="M515,282 C513.0,286.7 509.3,298.2 503,310 C496.7,321.8 487.5,338.0 477,353 C466.5,368.0 451.7,385.5 440,400 C428.3,414.5 414.8,429.5 407,440 C399.2,450.5 395.0,456.3 393,463 C391.0,469.7 392.7,474.3 395,480 C397.3,485.7 400.7,492.8 407,497 C413.3,501.2 423.0,504.5 433,505 C443.0,505.5 454.2,503.7 467,500 C479.8,496.3 493.3,489.2 510,483 C526.7,476.8 549.8,468.0 567,463 C584.2,458.0 599.7,456.8 613,453 C626.3,449.2 638.0,446.0 647,440 C656.0,434.0 662.8,427.0 667,417 C671.2,407.0 672.0,392.8 672,380 C672.0,367.2 669.0,351.7 667,340 C665.0,328.3 661.2,315.0 660,310"/>
<path d="M165,833 C170.8,833.0 189.7,831.8 200,833 C210.3,834.2 219.8,836.7 227,840 C234.2,843.3 238.7,846.8 243,853 C247.3,859.2 251.5,865.8 253,877 C254.5,888.2 251.3,904.0 252,920 C252.7,936.0 254.0,959.2 257,973 C260.0,986.8 264.5,993.5 270,1003 C275.5,1012.5 282.8,1022.7 290,1030 C297.2,1037.3 305.2,1044.2 313,1047 C320.8,1049.8 330.3,1049.8 337,1047 C343.7,1044.2 349.7,1037.3 353,1030 C356.3,1022.7 357.2,1011.3 357,1003 C356.8,994.7 356.0,988.3 352,980 C348.0,971.7 339.5,961.8 333,953 C326.5,944.2 318.5,937.0 313,927 C307.5,917.0 303.5,905.3 300,893 C296.5,880.7 293.3,867.3 292,853 C290.7,838.7 290.7,819.2 292,807 C293.3,794.8 295.3,789.0 300,780 C304.7,771.0 312.8,761.8 320,753 C327.2,744.2 333.5,735.8 343,727 C352.5,718.2 365.8,708.3 377,700 C388.2,691.7 397.8,684.2 410,677 C422.2,669.8 435.0,662.3 450,657 C465.0,651.7 480.5,648.3 500,645 C519.5,641.7 547.0,637.8 567,637 C587.0,636.2 607.8,641.2 620,640 C632.2,638.8 636.3,635.0 640,630 C643.7,625.0 644.2,617.2 642,610 C639.8,602.8 635.2,595.3 627,587 C618.8,578.7 603.0,568.3 593,560 C583.0,551.7 572.0,543.7 567,537 C562.0,530.3 563.0,525.0 563,520 C563.0,515.0 560.8,510.8 567,507 C573.2,503.2 583.3,498.7 600,497 C616.7,495.3 650.3,497.0 667,497 C683.7,497.0 677.8,494.3 700,497 C722.2,499.7 772.2,509.5 800,513 C827.8,516.5 844.8,519.0 867,518 C889.2,517.0 910.8,511.2 933,507 C955.2,502.8 977.7,496.7 1000,493 C1022.3,489.3 1047.5,486.7 1067,485 C1086.5,483.3 1105.3,482.2 1117,483 C1128.7,483.8 1132.3,486.0 1137,490 C1141.7,494.0 1144.5,500.3 1145,507 C1145.5,513.7 1142.5,522.3 1140,530 C1137.5,537.7 1133.3,545.2 1130,553 C1126.7,560.8 1122.5,569.2 1120,577 C1117.5,584.8 1115.3,592.8 1115,600 C1114.7,607.2 1115.5,614.7 1118,620 C1120.5,625.3 1124.7,629.5 1130,632 C1135.3,634.5 1141.2,635.8 1150,635 C1158.8,634.2 1171.8,629.8 1183,627 C1194.2,624.2 1205.8,619.7 1217,618 C1228.2,616.3 1240.0,616.3 1250,617 C1260.0,617.7 1269.2,619.5 1277,622 C1284.8,624.5 1290.3,627.3 1297,632 C1303.7,636.7 1308.2,640.8 1317,650 C1325.8,659.2 1339.0,675.8 1350,687 C1361.0,698.2 1374.7,709.8 1383,717 C1391.3,724.2 1391.7,724.5 1400,730 C1408.3,735.5 1421.8,743.8 1433,750 C1444.2,756.2 1457.5,761.5 1467,767 C1476.5,772.5 1484.5,777.0 1490,783 C1495.5,789.0 1497.2,794.0 1500,803 C1502.8,812.0 1507.5,820.8 1507,837 C1506.5,853.2 1496.0,878.3 1497,900 C1498.0,921.7 1505.8,944.8 1513,967 C1520.2,989.2 1531.0,1017.5 1540,1033 C1549.0,1048.5 1559.8,1054.7 1567,1060 C1574.2,1065.3 1560.8,1066.2 1583,1065 C1605.2,1063.8 1663.8,1054.3 1700,1053 C1736.2,1051.7 1769.5,1056.2 1800,1057 C1830.5,1057.8 1860.8,1059.2 1883,1058 C1905.2,1056.8 1920.2,1055.2 1933,1050 C1945.8,1044.8 1953.8,1036.5 1960,1027 C1966.2,1017.5 1966.2,1004.2 1970,993 C1973.8,981.8 1977.2,971.0 1983,960 C1988.8,949.0 1996.8,937.5 2005,927 C2013.2,916.5 2022.0,907.0 2032,897 C2042.0,887.0 2053.8,876.5 2065,867 C2076.2,857.5 2089.5,846.7 2099,840 C2108.5,833.3 2113.7,830.8 2122,827 C2130.3,823.2 2138.5,819.5 2149,817 C2159.5,814.5 2179.0,812.8 2185,812"/>
<path d="M172,890 C176.7,891.2 193.2,893.2 200,897 C206.8,900.8 209.2,905.8 213,913 C216.8,920.2 219.7,930.5 223,940 C226.3,949.5 228.5,960.5 233,970 C237.5,979.5 244.3,988.7 250,997 C255.7,1005.3 260.8,1011.7 267,1020 C273.2,1028.3 279.3,1039.8 287,1047 C294.7,1054.2 304.2,1060.3 313,1063 C321.8,1065.7 332.2,1067.3 340,1063 C347.8,1058.7 356.3,1047.0 360,1037 C363.7,1027.0 362.5,1012.5 362,1003 C361.5,993.5 361.2,988.3 357,980 C352.8,971.7 343.7,961.8 337,953 C330.3,944.2 322.7,937.0 317,927 C311.3,917.0 306.3,905.3 303,893 C299.7,880.7 297.5,864.0 297,853 C296.5,842.0 299.0,834.7 300,827 C301.0,819.3 300.8,813.7 303,807 C305.2,800.3 306.8,793.2 313,787 C319.2,780.8 328.3,775.0 340,770 C351.7,765.0 367.5,760.7 383,757 C398.5,753.3 416.3,750.0 433,748 C449.7,746.0 469.0,745.0 483,745 C497.0,745.0 507.0,745.5 517,748 C527.0,750.5 534.7,755.2 543,760 C551.3,764.8 560.3,772.0 567,777 C573.7,782.0 575.3,785.8 583,790 C590.7,794.2 601.8,799.2 613,802 C624.2,804.8 638.3,806.5 650,807 C661.7,807.5 674.7,806.7 683,805 C691.3,803.3 695.0,801.7 700,797 C705.0,792.3 708.5,784.3 713,777 C717.5,769.7 722.0,761.3 727,753 C732.0,744.7 738.8,735.3 743,727 C747.2,718.7 751.3,711.3 752,703 C752.7,694.7 751.2,685.3 747,677 C742.8,668.7 732.7,659.7 727,653 C721.3,646.3 715.8,641.7 713,637 C710.2,632.3 708.8,629.5 710,625 C711.2,620.5 713.3,614.7 720,610 C726.7,605.3 736.7,600.3 750,597 C763.3,593.7 785.0,590.7 800,590 C815.0,589.3 828.8,590.2 840,593 C851.2,595.8 857.0,602.0 867,607 C877.0,612.0 886.2,618.8 900,623 C913.8,627.2 933.3,630.3 950,632 C966.7,633.7 986.7,631.7 1000,633 C1013.3,634.3 1022.2,636.0 1030,640 C1037.8,644.0 1043.3,650.3 1047,657 C1050.7,663.7 1050.2,672.3 1052,680 C1053.8,687.7 1053.8,695.8 1058,703 C1062.2,710.2 1067.2,715.7 1077,723 C1086.8,730.3 1102.0,739.2 1117,747 C1132.0,754.8 1150.3,762.8 1167,770 C1183.7,777.2 1201.5,783.8 1217,790 C1232.5,796.2 1249.5,800.8 1260,807 C1270.5,813.2 1276.2,820.3 1280,827 C1283.8,833.7 1285.2,840.3 1283,847 C1280.8,853.7 1274.2,860.3 1267,867 C1259.8,873.7 1249.0,880.3 1240,887 C1231.0,893.7 1219.2,900.3 1213,907 C1206.8,913.7 1203.5,920.3 1203,927 C1202.5,933.7 1205.0,941.0 1210,947 C1215.0,953.0 1220.8,958.0 1233,963 C1245.2,968.0 1270.2,972.5 1283,977 C1295.8,981.5 1303.8,984.5 1310,990 C1316.2,995.5 1319.5,1002.8 1320,1010 C1320.5,1017.2 1316.8,1025.2 1313,1033 C1309.2,1040.8 1300.3,1050.0 1297,1057 C1293.7,1064.0 1290.8,1069.5 1293,1075 C1295.2,1080.5 1297.7,1086.3 1310,1090 C1322.3,1093.7 1351.2,1094.2 1367,1097 C1382.8,1099.8 1396.7,1102.7 1405,1107 C1413.3,1111.3 1417.5,1117.5 1417,1123 C1416.5,1128.5 1413.2,1135.8 1402,1140 C1390.8,1144.2 1364.5,1144.3 1350,1148 C1335.5,1151.7 1322.5,1156.7 1315,1162 C1307.5,1167.3 1305.3,1172.5 1305,1180 C1304.7,1187.5 1307.2,1198.2 1313,1207 C1318.8,1215.8 1330.0,1225.3 1340,1233 C1350.0,1240.7 1360.8,1248.5 1373,1253 C1385.2,1257.5 1400.7,1258.3 1413,1260 C1425.3,1261.7 1438.7,1260.2 1447,1263 C1455.3,1265.8 1460.3,1270.8 1463,1277 C1465.7,1283.2 1465.2,1291.7 1463,1300 C1460.8,1308.3 1456.0,1318.2 1450,1327 C1444.0,1335.8 1436.5,1344.7 1427,1353 C1417.5,1361.3 1404.2,1370.8 1393,1377 C1381.8,1383.2 1371.0,1386.5 1360,1390 C1349.0,1393.5 1335.0,1394.7 1327,1398 C1319.0,1401.3 1315.2,1404.2 1312,1410 C1308.8,1415.8 1306.7,1424.7 1308,1433 C1309.3,1441.3 1316.8,1451.7 1320,1460 C1323.2,1468.3 1328.7,1477.5 1327,1483 C1325.3,1488.5 1319.5,1491.0 1310,1493 C1300.5,1495.0 1282.2,1494.3 1270,1495 C1257.8,1495.7 1247.0,1493.7 1237,1497 C1227.0,1500.3 1219.5,1507.0 1210,1515 C1200.5,1523.0 1188.3,1536.2 1180,1545 C1171.7,1553.8 1163.3,1564.2 1160,1568"/>
<path d="M2185,982 C2176.2,982.2 2149.2,981.7 2132,983 C2114.8,984.3 2097.5,986.7 2082,990 C2066.5,993.3 2050.7,998.5 2039,1003 C2027.3,1007.5 2019.3,1011.3 2012,1017 C2004.7,1022.7 2000.5,1028.7 1995,1037 C1989.5,1045.3 1984.5,1057.0 1979,1067 C1973.5,1077.0 1968.2,1088.2 1962,1097 C1955.8,1105.8 1948.7,1112.3 1942,1120 C1935.3,1127.7 1930.2,1136.8 1922,1143 C1913.8,1149.2 1903.3,1151.3 1893,1157 C1882.7,1162.7 1871.0,1169.3 1860,1177 C1849.0,1184.7 1837.0,1193.7 1827,1203 C1817.0,1212.3 1809.0,1222.3 1800,1233 C1791.0,1243.7 1781.8,1255.8 1773,1267 C1764.2,1278.2 1754.2,1290.0 1747,1300 C1739.8,1310.0 1734.5,1318.7 1730,1327 C1725.5,1335.3 1723.0,1342.5 1720,1350 C1717.0,1357.5 1713.3,1368.3 1712,1372"/>
<path d="M212,1018 C216.7,1018.3 232.0,1018.0 240,1020 C248.0,1022.0 253.3,1025.0 260,1030 C266.7,1035.0 275.0,1042.8 280,1050 C285.0,1057.2 285.5,1065.8 290,1073 C294.5,1080.2 299.8,1088.5 307,1093 C314.2,1097.5 325.3,1100.0 333,1100 C340.7,1100.0 348.0,1098.0 353,1093 C358.0,1088.0 360.7,1079.3 363,1070 C365.3,1060.7 365.5,1045.3 367,1037 C368.5,1028.7 371.5,1028.3 372,1020 C372.5,1011.7 370.8,998.2 370,987 C369.2,975.8 368.2,964.2 367,953 C365.8,941.8 363.0,931.0 363,920 C363.0,909.0 364.7,896.5 367,887 C369.3,877.5 371.5,870.8 377,863 C382.5,855.2 390.7,847.2 400,840 C409.3,832.8 421.8,825.8 433,820 C444.2,814.2 455.8,808.8 467,805 C478.2,801.2 490.7,797.8 500,797 C509.3,796.2 516.8,797.3 523,800 C529.2,802.7 534.7,807.5 537,813 C539.3,818.5 539.3,825.2 537,833 C534.7,840.8 528.7,851.0 523,860 C517.3,869.0 508.0,878.2 503,887 C498.0,895.8 493.8,905.3 493,913 C492.2,920.7 494.0,928.5 498,933 C502.0,937.5 508.3,940.0 517,940 C525.7,940.0 539.0,936.3 550,933 C561.0,929.7 571.8,923.8 583,920 C594.2,916.2 603.0,911.7 617,910 C631.0,908.3 650.3,909.2 667,910 C683.7,910.8 700.3,913.7 717,915 C733.7,916.3 753.2,917.7 767,918 C780.8,918.3 790.0,919.5 800,917 C810.0,914.5 819.2,909.7 827,903 C834.8,896.3 840.3,887.5 847,877 C853.7,866.5 860.3,850.0 867,840 C873.7,830.0 879.3,823.3 887,817 C894.7,810.7 904.2,804.8 913,802 C921.8,799.2 931.0,799.5 940,800 C949.0,800.5 957.0,802.2 967,805 C977.0,807.8 986.2,812.3 1000,817 C1013.8,821.7 1033.3,826.3 1050,833 C1066.7,839.7 1086.2,849.2 1100,857 C1113.8,864.8 1124.2,871.7 1133,880 C1141.8,888.3 1148.2,897.0 1153,907 C1157.8,917.0 1161.2,927.8 1162,940 C1162.8,952.2 1159.7,969.5 1158,980 C1156.3,990.5 1156.2,998.0 1152,1003 C1147.8,1008.0 1144.5,1008.3 1133,1010 C1121.5,1011.7 1098.5,1011.8 1083,1013 C1067.5,1014.2 1051.0,1015.3 1040,1017 C1029.0,1018.7 1022.0,1019.2 1017,1023 C1012.0,1026.8 1010.7,1032.7 1010,1040 C1009.3,1047.3 1009.2,1058.2 1013,1067 C1016.8,1075.8 1024.0,1084.2 1033,1093 C1042.0,1101.8 1053.0,1111.7 1067,1120 C1081.0,1128.3 1100.3,1136.3 1117,1143 C1133.7,1149.7 1148.7,1155.5 1167,1160 C1185.3,1164.5 1212.7,1165.5 1227,1170 C1241.3,1174.5 1247.5,1180.8 1253,1187 C1258.5,1193.2 1259.2,1198.2 1260,1207 C1260.8,1215.8 1258.0,1230.0 1258,1240 C1258.0,1250.0 1257.5,1259.2 1260,1267 C1262.5,1274.8 1269.7,1280.3 1273,1287 C1276.3,1293.7 1280.0,1299.3 1280,1307 C1280.0,1314.7 1277.5,1323.0 1273,1333 C1268.5,1343.0 1259.0,1357.0 1253,1367 C1247.0,1377.0 1240.3,1383.0 1237,1393 C1233.7,1403.0 1233.0,1417.5 1233,1427 C1233.0,1436.5 1239.2,1441.2 1237,1450 C1234.8,1458.8 1227.3,1469.5 1220,1480 C1212.7,1490.5 1201.8,1501.8 1193,1513 C1184.2,1524.2 1173.3,1537.8 1167,1547 C1160.7,1556.2 1157.0,1564.5 1155,1568"/>
<path d="M530,1270 C530.3,1263.8 531.5,1246.8 532,1233 C532.5,1219.2 533.8,1202.5 533,1187 C532.2,1171.5 529.7,1152.8 527,1140 C524.3,1127.2 521.0,1120.5 517,1110 C513.0,1099.5 505.3,1088.2 503,1077 C500.7,1065.8 502.3,1049.7 503,1043 C503.7,1036.3 503.7,1043.0 507,1037 C510.3,1031.0 518.0,1016.5 523,1007 C528.0,997.5 533.0,987.3 537,980 C541.0,972.7 542.0,967.5 547,963 C552.0,958.5 558.2,954.8 567,953 C575.8,951.2 586.2,951.3 600,952 C613.8,952.7 633.3,955.2 650,957 C666.7,958.8 687.8,960.3 700,963 C712.2,965.7 716.8,968.0 723,973 C729.2,978.0 735.3,985.2 737,993 C738.7,1000.8 736.3,1010.5 733,1020 C729.7,1029.5 723.0,1040.0 717,1050 C711.0,1060.0 703.2,1070.0 697,1080 C690.8,1090.0 684.0,1100.5 680,1110 C676.0,1119.5 672.5,1128.7 673,1137 C673.5,1145.3 677.3,1154.5 683,1160 C688.7,1165.5 699.7,1169.5 707,1170 C714.3,1170.5 719.8,1168.0 727,1163 C734.2,1158.0 741.7,1148.8 750,1140 C758.3,1131.2 768.7,1120.0 777,1110 C785.3,1100.0 790.7,1093.3 800,1080 C809.3,1066.7 823.0,1046.7 833,1030 C843.0,1013.3 852.2,995.0 860,980 C867.8,965.0 873.3,950.5 880,940 C886.7,929.5 892.2,922.0 900,917 C907.8,912.0 918.7,910.7 927,910 C935.3,909.3 944.0,909.7 950,913 C956.0,916.3 959.7,922.2 963,930 C966.3,937.8 967.7,947.8 970,960 C972.3,972.2 974.8,990.8 977,1003 C979.2,1015.2 980.3,1021.3 983,1033 C985.7,1044.7 988.0,1060.2 993,1073 C998.0,1085.8 1005.7,1098.8 1013,1110 C1020.3,1121.2 1030.8,1130.5 1037,1140 C1043.2,1149.5 1047.0,1157.0 1050,1167 C1053.0,1177.0 1055.0,1187.8 1055,1200 C1055.0,1212.2 1053.0,1227.2 1050,1240 C1047.0,1252.8 1042.5,1262.5 1037,1277 C1031.5,1291.5 1024.3,1309.3 1017,1327 C1009.7,1344.7 1000.3,1365.8 993,1383 C985.7,1400.2 978.8,1416.3 973,1430 C967.2,1443.7 960.5,1459.2 958,1465"/>
<path d="M1117,370 C1117.0,372.5 1116.2,378.8 1117,385 C1117.8,391.2 1119.3,398.3 1122,407 C1124.7,415.7 1127.8,427.7 1133,437 C1138.2,446.3 1144.7,455.3 1153,463 C1161.3,470.7 1169.7,477.3 1183,483 C1196.3,488.7 1216.3,493.0 1233,497 C1249.7,501.0 1266.3,503.7 1283,507 C1299.7,510.3 1316.3,513.2 1333,517 C1349.7,520.8 1369.0,526.2 1383,530 C1397.0,533.8 1407.5,536.7 1417,540 C1426.5,543.3 1432.8,544.5 1440,550 C1447.2,555.5 1453.3,564.2 1460,573 C1466.7,581.8 1473.8,594.7 1480,603 C1486.2,611.3 1490.8,618.0 1497,623 C1503.2,628.0 1508.2,631.0 1517,633 C1525.8,635.0 1540.7,634.2 1550,635 C1559.3,635.8 1567.2,635.5 1573,638 C1578.8,640.5 1583.3,645.2 1585,650 C1586.7,654.8 1586.0,662.0 1583,667 C1580.0,672.0 1575.3,675.7 1567,680 C1558.7,684.3 1543.0,688.5 1533,693 C1523.0,697.5 1514.7,702.5 1507,707 C1499.3,711.5 1492.0,715.7 1487,720 C1482.0,724.3 1477.8,728.5 1477,733 C1476.2,737.5 1478.2,743.7 1482,747 C1485.8,750.3 1491.5,752.0 1500,753 C1508.5,754.0 1521.8,752.3 1533,753 C1544.2,753.7 1557.5,754.7 1567,757 C1576.5,759.3 1584.8,762.7 1590,767 C1595.2,771.3 1597.5,777.5 1598,783 C1598.5,788.5 1595.7,794.3 1593,800 C1590.3,805.7 1584.5,811.5 1582,817 C1579.5,822.5 1576.7,828.0 1578,833 C1579.3,838.0 1580.8,843.0 1590,847 C1599.2,851.0 1614.7,853.2 1633,857 C1651.3,860.8 1677.7,865.7 1700,870 C1722.3,874.3 1744.8,878.0 1767,883 C1789.2,888.0 1813.7,893.8 1833,900 C1852.3,906.2 1869.0,915.0 1883,920 C1897.0,925.0 1905.8,928.3 1917,930 C1928.2,931.7 1939.0,931.7 1950,930 C1961.0,928.3 1972.7,926.2 1983,920 C1993.3,913.8 2003.8,901.8 2012,893 C2020.2,884.2 2026.5,874.7 2032,867 C2037.5,859.3 2041.7,854.8 2045,847 C2048.3,839.2 2050.3,830.0 2052,820 C2053.7,810.0 2053.8,797.0 2055,787 C2056.2,777.0 2056.2,767.0 2059,760 C2061.8,753.0 2065.3,748.3 2072,745 C2078.7,741.7 2086.2,741.2 2099,740 C2111.8,738.8 2132.3,738.5 2149,738 C2165.7,737.5 2187.5,737.8 2199,737 C2210.5,736.2 2214.8,733.7 2218,733"/>
<path d="M2440,352 C2430.7,356.7 2399.2,370.3 2384,380 C2368.8,389.7 2360.5,400.5 2349,410 C2337.5,419.5 2325.0,427.5 2315,437 C2305.0,446.5 2296.2,457.0 2289,467 C2281.8,477.0 2276.5,487.0 2272,497 C2267.5,507.0 2264.5,516.5 2262,527 C2259.5,537.5 2257.5,549.0 2257,560 C2256.5,571.0 2257.7,581.8 2259,593 C2260.3,604.2 2262.3,615.8 2265,627 C2267.7,638.2 2272.7,652.8 2275,660 C2277.3,667.2 2278.3,668.3 2279,670"/>
<path d="M1380,350 C1386.2,358.3 1405.3,387.5 1417,400 C1428.7,412.5 1435.0,415.0 1450,425 C1465.0,435.0 1487.5,449.2 1507,460 C1526.5,470.8 1548.7,478.8 1567,490 C1585.3,501.2 1603.7,515.3 1617,527 C1630.3,538.7 1639.8,552.0 1647,560 C1654.2,568.0 1657.8,572.5 1660,575"/>
<path d="M1692,637 C1694.7,644.2 1701.2,671.7 1708,680 C1714.8,688.3 1724.3,685.8 1733,687 C1741.7,688.2 1751.7,688.7 1760,687 C1768.3,685.3 1773.5,681.5 1783,677 C1792.5,672.5 1805.5,664.8 1817,660 C1828.5,655.2 1846.2,650.0 1852,648"/>
<path d="M1863,748 C1860.8,748.3 1860.5,746.8 1850,750 C1839.5,753.2 1815.0,762.5 1800,767 C1785.0,771.5 1769.5,774.3 1760,777 C1750.5,779.7 1745.2,779.7 1743,783 C1740.8,786.3 1743.0,793.7 1747,797 C1751.0,800.3 1752.7,801.7 1767,803 C1781.3,804.3 1810.8,805.0 1833,805 C1855.2,805.0 1884.3,805.0 1900,803 C1915.7,801.0 1918.2,797.3 1927,793 C1935.8,788.7 1945.5,783.7 1953,777 C1960.5,770.3 1964.3,760.8 1972,753 C1979.7,745.2 1989.0,737.2 1999,730 C2009.0,722.8 2021.0,715.0 2032,710 C2043.0,705.0 2053.8,702.5 2065,700 C2076.2,697.5 2087.8,697.8 2099,695 C2110.2,692.2 2123.7,688.3 2132,683 C2140.3,677.7 2145.7,669.0 2149,663 C2152.3,657.0 2153.7,652.5 2152,647 C2150.3,641.5 2144.5,635.0 2139,630 C2133.5,625.0 2125.2,621.5 2119,617 C2112.8,612.5 2106.0,607.0 2102,603 C2098.0,599.0 2095.5,596.3 2095,593 C2094.5,589.7 2095.0,587.3 2099,583 C2103.0,578.7 2110.7,572.5 2119,567 C2127.3,561.5 2138.5,555.7 2149,550 C2159.5,544.3 2172.7,538.0 2182,533 C2191.3,528.0 2197.8,525.0 2205,520 C2212.2,515.0 2220.0,509.2 2225,503 C2230.0,496.8 2231.8,489.0 2235,483 C2238.2,477.0 2242.5,469.7 2244,467"/>
<path d="M873,987 C878.5,980.8 886.3,974.7 893,973 C899.7,971.3 907.3,973.7 913,977 C918.7,980.3 924.7,985.8 927,993 C929.3,1000.2 929.3,1011.0 927,1020 C924.7,1029.0 918.7,1039.2 913,1047 C907.3,1054.8 898.0,1060.3 893,1067 C888.0,1073.7 884.0,1080.3 883,1087 C882.0,1093.7 884.2,1101.5 887,1107 C889.8,1112.5 897.8,1114.5 900,1120 C902.2,1125.5 903.3,1134.5 900,1140 C896.7,1145.5 891.2,1149.7 880,1153 C868.8,1156.3 846.3,1159.3 833,1160 C819.7,1160.7 807.2,1160.3 800,1157 C792.8,1153.7 791.2,1146.7 790,1140 C788.8,1133.3 789.2,1125.8 793,1117 C796.8,1108.2 805.2,1098.7 813,1087 C820.8,1075.3 832.2,1059.8 840,1047 C847.8,1034.2 854.5,1020.0 860,1010 C865.5,1000.0 867.5,993.2 873,987Z"/>
<path d="M595,1267 C595.0,1261.2 597.8,1252.5 607,1248 C616.2,1243.5 637.3,1241.0 650,1240 C662.7,1239.0 671.8,1239.2 683,1242 C694.2,1244.8 707.0,1250.7 717,1257 C727.0,1263.3 738.0,1274.0 743,1280 C748.0,1286.0 748.7,1289.7 747,1293 C745.3,1296.3 738.7,1300.0 733,1300 C727.3,1300.0 721.3,1295.2 713,1293 C704.7,1290.8 696.3,1287.8 683,1287 C669.7,1286.2 645.7,1288.7 633,1288 C620.3,1287.3 613.3,1286.5 607,1283 C600.7,1279.5 595.0,1272.8 595,1267Z"/>
<path d="M382,1017 C385.2,1013.7 392.3,1010.3 397,1013 C401.7,1015.7 406.7,1024.0 410,1033 C413.3,1042.0 416.5,1057.0 417,1067 C417.5,1077.0 417.0,1086.3 413,1093 C409.0,1099.7 400.2,1104.7 393,1107 C385.8,1109.3 374.7,1109.3 370,1107 C365.3,1104.7 364.5,1100.8 365,1093 C365.5,1085.2 370.8,1070.0 373,1060 C375.2,1050.0 376.5,1040.2 378,1033 C379.5,1025.8 378.8,1020.3 382,1017Z"/>
</g>
<ellipse cx="758" cy="432" rx="53" ry="23" stroke="#a3402a" stroke-width="3"/>
</g>
<g clip-path="url(#us)" fill="none" stroke="#5a3a12" stroke-opacity="0.75" stroke-width="2.8" stroke-dasharray="7.5 5.5" stroke-linejoin="round">
<path d="M257,410 L280,413 L287,427 L287,450 L300,455 L333,460 L383,467 L433,468 L467,470 L510,478"/>
<path d="M540,315 L530,370 L520,420 L513,453 L510,478"/>
<path d="M577,325 L570,370 L573,403 L587,427 L600,453 L613,458 L610,487 L603,510 L603,520 L627,517 L633,543 L647,580 L653,590 L683,590 L713,583 L727,573"/>
<path d="M727,573 L833,578 L933,590 L998,595"/>
<path d="M510,478 L507,520 L493,540 L483,553 L480,587 L473,637 L467,687"/>
<path d="M180,628 L233,640 L273,650 L333,667 L383,677 L433,685 L467,687 L533,703 L583,717 L650,730 L707,737"/>
<path d="M727,573 L723,620 L717,670 L707,737"/>
<path d="M337,667 L333,703 L330,720 L313,767 L310,827 L333,860 L363,910 L400,970 L433,1020 L467,1063 L490,1087"/>
<path d="M580,718 L573,780 L560,853 L547,920 L537,970 L530,987 L510,1010 L500,1020 L493,1063 L490,1087"/>
<path d="M490,1087 L497,1123 L480,1143 L467,1180 L470,1205"/>
<path d="M707,737 L703,787 L720,790 L780,797"/>
<path d="M780,797 L770,887 L760,953 L753,1010"/>
<path d="M537,983 L600,990 L683,1003 L753,1012 L867,1023 L977,1032 L1057,1035 L1200,1037 L1377,1037"/>
<path d="M780,797 L867,802 L987,810 L1063,815 L1063,870"/>
<path d="M998,595 L990,653 L993,707 L987,810"/>
<path d="M1015,388 L1013,437 L1007,487 L1003,545 L998,595"/>
<path d="M1003,545 L1133,550 L1287,552"/>
<path d="M993,707 L1067,708 L1200,710 L1220,717 L1233,720 L1267,718 L1287,727"/>
<path d="M1270,390 L1273,437 L1283,487 L1290,540 L1287,552 L1287,570 L1297,583 L1297,653 L1297,682 L1293,687 L1290,720 L1287,727 L1297,735 L1313,770 L1323,820 L1333,843 L1343,870"/>
<path d="M1297,682 L1400,678 L1507,675"/>
<path d="M1063,870 L1200,873 L1343,872"/>
<path d="M1063,870 L1060,953 L1057,1035"/>
<path d="M1010,1035 L1010,1062 L1140,1065 L1140,1167 L1153,1180 L1183,1193 L1233,1203 L1267,1213 L1300,1208 L1333,1205 L1367,1207 L1387,1217 L1410,1220 L1413,1250 L1415,1300 L1430,1333 L1437,1367 L1430,1400 L1427,1427"/>
<path d="M1007,1062 L1003,1167 L997,1300 L830,1295"/>
<path d="M750,1010 L743,1100 L730,1200 L717,1317"/>
<path d="M1343,872 L1357,887 L1367,910 L1377,917 L1378,1037 L1382,1063 L1383,1067 L1390,1133 L1390,1217"/>
<path d="M1333,840 L1428,838 L1500,833 L1507,847"/>
<path d="M1382,1062 L1467,1058 L1550,1055 L1577,1067 L1573,1078 L1597,1077"/>
<path d="M1413,1250 L1547,1247"/>
<path d="M1603,1067 L1597,1093 L1590,1133 L1567,1160 L1553,1187 L1550,1233 L1553,1250 L1563,1283 L1547,1317 L1537,1347 L1620,1350 L1623,1367 L1632,1390"/>
<path d="M1680,1127 L1680,1233 L1683,1317 L1690,1370"/>
<path d="M1590,1133 L1680,1125 L1790,1115 L1847,1100"/>
<path d="M1790,1115 L1800,1150 L1820,1207 L1837,1267 L1840,1325"/>
<path d="M1727,1337 L1840,1328 L1850,1337 L1915,1335"/>
<path d="M1617,1047 L1667,1043 L1673,1033 L1767,1025 L1867,1013 L1950,1000"/>
<path d="M1847,1100 L1867,1073 L1933,1047 L1947,1013 L1979,997"/>
<path d="M1847,1100 L1887,1107 L1920,1130 L1947,1153 L1973,1180 L1990,1200"/>
<path d="M1887,1102 L1933,1080 L1980,1072 L2000,1083 L2050,1087 L2100,1112"/>
<path d="M1950,1000 L1979,997 L2065,983 L2165,960 L2188,957"/>
<path d="M1832,1020 L1882,1000 L1899,980 L1912,953 L1905,897"/>
<path d="M1882,1000 L1942,1013 L1979,997 L1992,950 L2005,897 L2032,867 L2045,833 L2052,810"/>
<path d="M1945,703 L1952,780 L1959,810 L1939,840 L1915,867 L1905,897 L1893,893 L1867,900 L1833,897 L1793,887"/>
<path d="M1962,780 L1962,820 L2005,817 L2052,808 L2065,803 L2115,793 L2165,778 L2175,780"/>
<path d="M2005,817 L2015,835 L2045,833"/>
<path d="M2165,778 L2172,810 L2180,850 L2200,848"/>
<path d="M1945,700 L1999,690 L2065,677 L2132,667 L2152,670"/>
<path d="M2152,670 L2172,693 L2169,720 L2172,740 L2192,750 L2175,780"/>
<path d="M2172,693 L2205,700 L2225,703"/>
<path d="M2182,483 L2189,513 L2195,543 L2209,570 L2219,603 L2219,640 L2225,700"/>
<path d="M2255,467 L2245,503 L2242,537 L2245,570 L2244,597"/>
<path d="M2265,453 L2282,490 L2292,520 L2305,547"/>
<path d="M2219,603 L2244,597 L2299,580 L2312,573"/>
<path d="M2219,640 L2265,623 L2299,617 L2309,617"/>
<path d="M2292,620 L2295,655"/>
<path d="M2309,617 L2312,647"/>
<path d="M1457,505 L1455,527 L1447,547 L1433,553 L1437,587 L1443,613 L1460,627 L1487,643 L1503,660 L1507,675"/>
<path d="M1507,675 L1513,697 L1520,717 L1540,730 L1557,753 L1550,777 L1527,787 L1520,803 L1527,830 L1520,847 L1507,847 L1513,880 L1533,900 L1560,933 L1587,967 L1603,993 L1613,1017 L1620,1043 L1603,1067"/>
<path d="M1540,728 L1647,718"/>
<path d="M1533,512 L1553,522 L1600,530 L1620,537 L1633,553 L1645,562"/>
<path d="M1667,767 L1670,820 L1677,867 L1680,907 L1673,940 L1660,973 L1650,993 L1650,1013 L1623,1010"/>
<path d="M1700,750 L1777,743 L1820,737 L1835,733"/>
<path d="M1777,745 L1780,820 L1790,883 L1790,900"/>
<path d="M1793,887 L1790,900 L1773,910 L1767,927 L1747,950 L1710,960 L1683,967 L1660,977"/>
</g>
<path d="M2140,810 L2144,847 L2149,867 L2162,887 L2165,907 L2157,917 L2152,928 L2165,934 L2180,932 L2182,913 L2184,897 L2175,883 L2162,867 L2152,847 L2147,820 L2145,810Z" fill="#fff" stroke="#5a3a12" stroke-width="1.5"/>
<path d="M2228,703 L2275,672 L2292,668 L2270,683 L2240,703Z" fill="#fff"/>
<path d="M1647,568 L1659,571 L1650,590 L1634,606 L1628,601 L1640,585Z" fill="#fff" stroke="#5a3a12" stroke-width="1.5"/>
<path d="M1595,1393 L1600,1386 L1612,1384 L1624,1387 L1629,1393 L1620,1396 L1612,1401 L1600,1400Z" fill="#fff" stroke="#5a3a12" stroke-width="1.5"/>
<path d="M1705,1363 L1710,1357 L1714,1366 L1713,1380 L1707,1379Z" fill="#fff" stroke="#5a3a12" stroke-width="1.3"/>
<path d="M1376,1433 L1384,1428 L1387,1444 L1380,1449Z" fill="#fff" stroke="#5a3a12" stroke-width="1.3"/>
<path d="M2229,704 L2252,691 L2280,677 L2292,678 L2281,686 L2276,700 L2274,708 L2264,711 L2232,716 L2218,722 L2220,712Z" fill="#f6c41e" stroke="#5a3a12" stroke-width="1.5"/>
<path d="M2266,700 L2279,688 L2282,690 L2271,704Z" fill="#fff" stroke="#5a3a12" stroke-width="1"/>
<path d="M2216,729 L2246,722 L2272,710" fill="none" stroke="#8a8580" stroke-width="1.6"/>
<circle cx="2342" cy="638" r="3.5" fill="#f7a61f" stroke="#5a3a12" stroke-width="1.5"/>
<circle cx="2367" cy="640" r="3.5" fill="#f7a61f" stroke="#5a3a12" stroke-width="1.5"/>
<path d="M260,290 L287,303 L320,320 L327,333 L307,347 L305,360 L317,367 L330,357 L340,330 L333,317 L330,307 L342,300 L337,278 L420,295 L500,312 L667,340 L700,347 L833,367 L967,382 L1117,385 L1233,388 L1333,387 L1343,368 L1353,372 L1363,398 L1393,410 L1417,400 L1447,418 L1457,417 L1480,430 L1500,418 L1520,427 L1555,430 L1507,460 L1487,487 L1457,505 L1507,492 L1512,505 L1533,505 L1563,487 L1587,472 L1607,453 L1622,452 L1603,473 L1602,483 L1620,480 L1640,490 L1667,500 L1683,487 L1727,477 L1733,493 L1757,488 L1772,512 L1747,517 L1743,527 L1717,517 L1693,527 L1677,543 L1663,537 L1650,553 L1647,567 L1660,570 L1658,573 L1653,620 L1643,653 L1640,680 L1650,720 L1660,750 L1667,763 L1680,760 L1700,743 L1708,713 L1708,687 L1697,653 L1692,627 L1700,587 L1717,573 L1725,580 L1730,553 L1737,547 L1740,533 L1745,528 L1767,533 L1793,540 L1803,553 L1808,580 L1803,607 L1793,623 L1798,637 L1810,627 L1823,610 L1840,613 L1850,647 L1855,667 L1847,687 L1837,713 L1830,733 L1840,740 L1863,748 L1900,735 L1917,720 L1947,700 L1965,687 L1989,667 L1999,650 L1987,633 L1992,620 L2019,610 L2045,610 L2072,600 L2085,587 L2089,573 L2082,553 L2092,543 L2099,527 L2112,510 L2132,497 L2179,483 L2199,477 L2245,467 L2265,427 L2279,393 L2279,363 L2292,330 L2302,308 L2309,320 L2325,317 L2345,305 L2365,313 L2372,343 L2384,380 L2399,387 L2405,400 L2422,410 L2425,430 L2399,447 L2382,460 L2365,467 L2352,493 L2329,510 L2319,527 L2305,550 L2312,567 L2315,590 L2329,607 L2345,617 L2355,600 L2362,610 L2365,620 L2345,632 L2332,640 L2312,650 L2275,668 L2225,700 L2215,723 L2225,743 L2229,760 L2219,787 L2209,810 L2199,805 L2187,803 L2185,810 L2199,827 L2205,847 L2202,867 L2192,897 L2182,923 L2179,933 L2190,940 L2189,973 L2179,982 L2197,985 L2199,997 L2209,1003 L2199,1017 L2179,1023 L2182,1037 L2195,1042 L2192,1053 L2152,1083 L2139,1107 L2109,1127 L2095,1150 L2075,1185 L2050,1230 L2000,1300 L1950,1380 L1915,1360 L1893,1367 L1867,1383 L1840,1397 L1827,1383 L1800,1370 L1767,1367 L1740,1370 L1720,1377 L1710,1360 L1703,1377 L1687,1373 L1653,1397 L1650,1410 L1640,1427 L1657,1437 L1663,1447 L1647,1453 L1627,1437 L1600,1437 L1577,1450 L1550,1440 L1527,1423 L1500,1433 L1467,1430 L1433,1427 L1407,1437 L1387,1443 L1380,1430 L1377,1443 L1360,1467 L1327,1487 L1303,1500 L1287,1507 L1277,1527 L1253,1537 L1257,1547 L1260,1580 L1150,1580 L1147,1550 L1127,1523 L1103,1493 L1087,1460 L1067,1440 L1050,1433 L1027,1423 L1007,1430 L987,1460 L967,1467 L960,1460 L917,1427 L903,1377 L867,1343 L830,1302 L755,1302 L753,1320 L717,1317 L620,1308 L527,1263 L460,1220 L457,1208 L353,1197 L347,1187 L350,1170 L333,1143 L307,1110 L280,1100 L267,1087 L247,1070 L220,1053 L227,1040 L217,1020 L213,997 L197,967 L187,940 L197,920 L177,893 L182,867 L167,850 L170,833 L160,807 L150,767 L153,733 L147,707 L158,687 L165,682 L175,653 L177,620 L178,577 L200,530 L210,520 L243,433 L257,380 L252,310Z" fill="none" stroke="#6d5836" stroke-width="1.8" stroke-linejoin="round"/>
<g fill="none" stroke="#8a8580" stroke-width="2.2" stroke-linecap="round">
<path d="M370,245 L368,283"/>
<path d="M431,255 L420,297"/>
<path d="M502,280 L488,308"/>
<path d="M514,279 L503,310"/>
<path d="M659,308 C659.7,310.0 661.7,314.7 663,320 C664.3,325.3 666.3,336.7 667,340"/>
<path d="M186,524 L210,525"/>
<path d="M123,696 C125.8,695.0 133.5,692.2 140,690 C146.5,687.8 158.3,684.2 162,683"/>
<path d="M133,762 L153,740"/>
<path d="M138,831 L167,832"/>
<path d="M152,892 L177,890"/>
<path d="M170,1022 L217,1018"/>
<path d="M523,1282 L530,1263"/>
<path d="M955,1490 L960,1463"/>
<path d="M1113,353 L1117,385"/>
<path d="M1377,352 C1380.0,355.8 1388.3,367.0 1395,375 C1401.7,383.0 1413.3,395.8 1417,400"/>
<path d="M1507,460 C1512.0,462.8 1527.0,472.0 1537,477 C1547.0,482.0 1562.0,487.8 1567,490"/>
<path d="M1572,446 L1600,467"/>
<path d="M1607,475 C1612.5,476.7 1630.7,483.0 1640,485 C1649.3,487.0 1659.2,486.7 1663,487"/>
<path d="M1658,573 C1658.8,578.0 1661.5,592.3 1663,603 C1664.5,613.7 1664.7,627.0 1667,637 C1669.3,647.0 1672.7,656.3 1677,663 C1681.3,669.7 1687.8,674.2 1693,677 C1698.2,679.8 1705.5,679.5 1708,680"/>
<path d="M1850,648 C1853.8,648.3 1867.5,647.5 1873,650 C1878.5,652.5 1881.0,656.8 1883,663 C1885.0,669.2 1885.5,678.7 1885,687 C1884.5,695.3 1882.5,704.7 1880,713 C1877.5,721.3 1872.8,731.2 1870,737 C1867.2,742.8 1864.2,746.2 1863,748"/>
<path d="M2462,352 C2455.0,354.2 2433.0,360.3 2420,365 C2407.0,369.7 2390.0,377.5 2384,380"/>
<path d="M2329,298 C2326.2,301.7 2320.3,305.2 2312,320 C2303.7,334.8 2290.2,362.5 2279,387 C2267.8,411.5 2250.7,453.7 2245,467"/>
<path d="M2209,815 C2214.2,815.5 2229.5,816.2 2240,818 C2250.5,819.8 2266.7,824.7 2272,826"/>
<path d="M2199,977 C2204.2,977.3 2220.0,978.2 2230,979 C2240.0,979.8 2254.2,981.5 2259,982"/>
<path d="M1710,1360 C1709.3,1366.7 1707.2,1387.8 1706,1400 C1704.8,1412.2 1703.5,1427.5 1703,1433"/>
</g>
<text class="nm" x="304" y="409">0.5</text>
<text class="nm" x="431" y="363">1.5</text>
<text class="st" x="409" y="394">WA</text>
<text class="nm" x="557" y="439">1.5</text>
<text class="nm" x="826" y="439">1.5</text>
<text class="st" x="914" y="470">MT</text>
<text class="nm" x="982" y="472">2.0</text>
<text class="st" x="1069" y="470">ND</text>
<text class="nm" x="1316" y="454">1.5</text>
<text class="st" x="1354" y="513">MN</text>
<text class="nm" x="530" y="517">2.0</text>
<text class="st" x="558" y="573">ID</text>
<text class="nm" x="252" y="588">1.0</text>
<text class="st" x="357" y="593">OR</text>
<text class="nm" x="357" y="632">1.5</text>
<text class="nm" x="574" y="697">2.5</text>
<text class="st" x="830" y="683">WY</text>
<text class="st" x="1170" y="607">SD</text>
<text class="nm" x="1336" y="618">2.0</text>
<text class="nm" x="1155" y="677">2.5</text>
<text class="nm" x="891" y="779">3.0</text>
<text class="st" x="1102" y="788">NE</text>
<text class="st" x="1362" y="780">IA</text>
<text class="nm" x="188" y="785">2.0</text>
<text class="nm" x="387" y="810">3.0</text>
<text class="st" x="703" y="835">UT</text>
<text class="st" x="448" y="868">NV</text>
<text class="nm" x="440" y="923">3.5</text>
<text class="nm" x="225" y="888">2.5</text>
<text class="nm" x="231" y="986">3.0</text>
<text class="st" x="299" y="991">CA</text>
<text class="st" x="894" y="917">CO</text>
<text class="nm" x="1026" y="902">3.5</text>
<text class="nm" x="824" y="974">3.5</text>
<text class="st" x="1123" y="956">KS</text>
<text class="nm" x="1418" y="896">2.5</text>
<text class="st" x="1436" y="961">MO</text>
<text class="st" x="615" y="1067">AZ</text>
<text class="nm" x="625" y="1144">4.0</text>
<text class="nm" x="399" y="1103">4.5</text>
<text class="nm" x="434" y="1148">3.5</text>
<text class="nm" x="862" y="1092">4.5</text>
<text class="st" x="862" y="1196">NM</text>
<text class="nm" x="873" y="1242">4.0</text>
<text class="nm" x="711" y="1280">4.5</text>
<text class="nm" x="1219" y="1056">3.0</text>
<text class="st" x="1222" y="1101">OK</text>
<text class="nm" x="1111" y="1253">3.5</text>
<text class="st" x="1155" y="1298">TX</text>
<text class="nm" x="1354" y="1310">3.0</text>
<text class="st" x="1467" y="1196">AR</text>
<text class="st" x="1486" y="1345">LA</text>
<text class="st" x="1609" y="1245">MS</text>
<text class="st" x="1755" y="1236">AL</text>
<text class="nm" x="1729" y="1171">2.5</text>
<text class="st" x="1708" y="1093">TN</text>
<text class="st" x="1703" y="1008">KY</text>
<text class="nm" x="1626" y="923">2.0</text>
<text class="st" x="1721" y="917">IN</text>
<text class="st" x="1629" y="797">IL</text>
<text class="nm" x="1717" y="820">1.5</text>
<text class="st" x="1527" y="574">WI</text>
<text class="nm" x="1592" y="562">1.5</text>
<text class="nm" x="1639" y="521">1.0</text>
<text class="st" x="1744" y="628">MI</text>
<text class="nm" x="1768" y="653">1.0</text>
<text class="st" x="1864" y="873">OH</text>
<text class="st" x="1960" y="879">WV</text>
<text class="nm" x="1948" y="974">2.0</text>
<text class="st" x="2061" y="923">VA</text>
<text class="nm" x="2104" y="952">2.5</text>
<text class="st" x="2030" y="1050">NC</text>
<text class="nm" x="2116" y="1078">3.0</text>
<text class="st" x="2025" y="1169">SC</text>
<text class="nm" x="1893" y="1312">3.0</text>
<text class="st" x="2028" y="747">PA</text>
<text class="nm" x="2081" y="726">1.5</text>
<text class="st" x="2083" y="820">MD</text>
<text class="st" x="2227" y="853">DE</text>
<text class="st" x="2219" y="753">NJ</text>
<text class="st" x="2159" y="592">NY</text>
<text class="nm" x="2077" y="653">1.0</text>
<text class="st" x="2215" y="499">VT</text>
<text class="st" x="2270" y="546">NH</text>
<text class="st" x="2247" y="621">MA</text>
<text class="st" x="2253" y="668">CT</text>
<text class="st" x="2315" y="668">RI</text>
<text class="st" x="2309" y="417">ME</text>
<text class="nm" x="2344" y="374">1.5</text>
<g>
<path d="M735,1386 L133,1386 L133,1820 L735,1820" fill="none" stroke="#222" stroke-width="2"/>
<defs><linearGradient id="akw" x1="0" y1="0" x2="0" y2="1"><stop offset="0" stop-color="#f3f8fb"/><stop offset="0.55" stop-color="#e9f3f8"/><stop offset="0.8" stop-color="#cfe8ef"/><stop offset="1" stop-color="#c3e3ec"/></linearGradient><clipPath id="akc"><rect x="170" y="1416" width="528" height="381"/></clipPath></defs>
<rect x="170" y="1416" width="528" height="381" fill="url(#akw)"/>
<g clip-path="url(#akc)">
<g fill="none" stroke="#c9d3d8" stroke-width="1.2">
<path d="M235,1416 L170,1797"/>
<path d="M305,1416 L225,1797"/>
<path d="M372,1416 L350,1797"/>
<path d="M440,1416 L452,1797"/>
<path d="M507,1416 L560,1797"/>
<path d="M575,1416 L665,1797"/>
<path d="M650,1416 L760,1797"/>
<path d="M170,1460 Q434,1575 698,1405"/>
<path d="M170,1570 Q434,1685 698,1515"/>
<path d="M170,1685 Q434,1800 698,1630"/>
</g>
<path d="M170,1416 L215,1416 L232,1450 L247,1480 L258,1498 L270,1492 L282,1512 L270,1532 L252,1540 L243,1520 L232,1508 L222,1490 L212,1500 L200,1512 L185,1508 L172,1500 L170,1500Z" fill="#c8c9cb" stroke="#b5b6b8" stroke-width="1"/>
<path d="M170,1508 L180,1530 L176,1560 L170,1570Z" fill="#c8c9cb"/>
<path d="M507,1448 L530,1458 L548,1452 L560,1432 L580,1420 L600,1416 L698,1416 L698,1730 L690,1720 L682,1707 L680,1690 L660,1680 L640,1667 L620,1647 L600,1632 L577,1643 L563,1630 L543,1633Z" fill="#dcdcdf" stroke="#bdbdc2" stroke-width="1"/>
<path d="M655,1735 L672,1748 L690,1765 L698,1772 L698,1730 L690,1735 L670,1730Z" fill="#c9d0d2"/>
<path d="M333,1650 L333,1670 L330,1677 L350,1677 L360,1682 L377,1680 L373,1693 L353,1713 L333,1727 L313,1737 L290,1750 L287,1757 L300,1760 L313,1757 L340,1743 L367,1727 L393,1707 L417,1687 L433,1667 L423,1660 L437,1653 L437,1667 L453,1660 L460,1653 L477,1652 L510,1648 L543,1642Z" fill="#f8f4b4"/>
<path d="M507,1448 L477,1445 L450,1440 L427,1438 L413,1430 L397,1423 L383,1432 L370,1442 L357,1443 L347,1457 L333,1465 L320,1468 L317,1477 L330,1493 L340,1507 L350,1520 L363,1520 L347,1523 L333,1515 L313,1515 L297,1525 L303,1540 L310,1550 L327,1560 L350,1555 L353,1563 L347,1573 L330,1580 L313,1593 L300,1610 L302,1627 L317,1647 L333,1650 L440,1655 L543,1641 L543,1633Z" fill="#ffffff"/>
<path d="M543,1633 L560,1633 L567,1647 L583,1660 L600,1677 L620,1693 L647,1713 L667,1720 L682,1707 L680,1690 L660,1680 L640,1667 L620,1647 L600,1632 L590,1637 L577,1643 L563,1630Z" fill="#f8f4b4" stroke="#111" stroke-width="2"/>
<path d="M507,1448 L477,1445 L450,1440 L427,1438 L413,1430 L397,1423 L383,1432 L370,1442 L357,1443 L347,1457 L333,1465 L320,1468 L317,1477 L330,1493 L340,1507 L350,1520 L363,1520 L347,1523 L333,1515 L313,1515 L297,1525 L303,1540 L310,1550 L327,1560 L350,1555 L353,1563 L347,1573 L330,1580 L313,1593 L300,1610 L302,1627 L317,1647 L333,1650" fill="none" stroke="#111" stroke-width="2.6" stroke-linejoin="round"/>
<path d="M333,1650 L333,1670 L330,1677 L350,1677 L360,1682 L377,1680 L373,1693 L353,1713 L333,1727 L313,1737 L290,1750 L287,1757 L300,1760 L313,1757 L340,1743 L367,1727 L393,1707 L417,1687 L433,1667 L423,1660 L437,1653 L437,1667 L453,1660 L460,1653 L477,1652 L510,1648 L543,1642" fill="none" stroke="#111" stroke-width="2.2" stroke-linejoin="round"/>
<path d="M507,1448 L543,1633" fill="none" stroke="#111" stroke-width="2.6"/>
<path d="M333,1650 Q440,1656 543,1640" fill="none" stroke="#111" stroke-width="2" stroke-dasharray="6 4"/>
<path d="M410,1690 L425,1680 L435,1688 L432,1705 L420,1720 L408,1722 L405,1708Z" fill="#f8f4b4" stroke="#111" stroke-width="2"/>
<path d="M255,1555 L268,1558 L280,1570 L278,1577 L266,1572 L258,1565Z" fill="#fff" stroke="#111" stroke-width="2"/>
<path d="M280,1638 L295,1633 L302,1642 L290,1648Z" fill="#fff" stroke="#111" stroke-width="2"/>
<path d="M233,1775 L250,1765 L268,1760 L282,1755 L280,1762 L262,1770 L245,1777Z" fill="#f8f4b4" stroke="#111" stroke-width="2"/>
<circle cx="232" cy="1617" r="3" fill="#222"/>
<circle cx="238" cy="1688" r="3" fill="#222"/>
<circle cx="243" cy="1701" r="3" fill="#222"/>
<circle cx="395" cy="1737" r="3" fill="#222"/>
<circle cx="178" cy="1777" r="3" fill="#222"/>
<circle cx="190" cy="1776" r="3" fill="#222"/>
<circle cx="212" cy="1776" r="3" fill="#222"/>
<circle cx="225" cy="1775" r="3" fill="#222"/>
<path d="M657,1732 Q670,1745 690,1762" fill="none" stroke="#9aa" stroke-width="2"/>
</g>
<rect x="170" y="1416" width="528" height="381" fill="none" stroke="#1d1d1d" stroke-width="3"/>
<g font-size="14.5" fill="#777777" text-anchor="middle">
<text x="238" y="1408">-180°</text>
<text x="308" y="1408">-170°</text>
<text x="375" y="1408">-160°</text>
<text x="440" y="1408">-150°</text>
<text x="505" y="1408">-140°</text>
<text x="575" y="1408">-130°</text>
<text x="653" y="1408">-120°</text>
<text x="215" y="1813">-170°</text>
<text x="340" y="1813">-160°</text>
<text x="463" y="1813">-150°</text>
<text x="587" y="1813">-140°</text>
<text x="153" y="1502">65°</text>
<text x="153" y="1612">60°</text>
<text x="153" y="1718">55°</text>
<text x="717" y="1480">65°</text>
<text x="717" y="1594">60°</text>
<text x="717" y="1703">55°</text>
</g>
<text x="423" y="1573" font-size="20" font-weight="700" fill="#222" text-anchor="middle" textLength="67" lengthAdjust="spacingAndGlyphs">Alaska</text>
<text x="332" y="1643" font-size="14" font-style="italic" fill="#777" textLength="183" lengthAdjust="spacingAndGlyphs">No Data Above This Line</text>
<text transform="translate(190,1440) rotate(52)" font-size="16" fill="#8b8b8b" font-style="italic" letter-spacing="1">RUSSIA</text>
<text transform="translate(574,1557) rotate(-21)" font-size="16" fill="#8b8b8b" textLength="106" lengthAdjust="spacing">CANADA</text>
<text class="ser" transform="translate(197,1605) rotate(56)" font-size="23" fill="#3f9bd0" textLength="108" lengthAdjust="spacing">Bering Sea</text>
<path id="goa" d="M453,1714 Q525,1684 600,1713" fill="none"/>
<text class="ser" font-size="23" fill="#3f9bd0"><textPath href="#goa" textLength="150" lengthAdjust="spacing">Gulf of Alaska</textPath></text>
<rect x="445" y="1747" width="117" height="10" fill="#e8f3f6" stroke="#444" stroke-width="1.3"/><path d="M445,1752 H562 M474,1747 V1757 M503,1747 V1757 M532,1747 V1757" stroke="#444" stroke-width="1.3"/>
<g font-size="14.5" fill="#777777" text-anchor="middle"><text x="445" y="1783">0</text><text x="503" y="1783">200</text><text x="560" y="1783">400</text><text x="610" y="1783">Miles</text></g>
</g>
<g>
<rect x="768" y="1563" width="521" height="257" fill="#fff" stroke="#222" stroke-width="2"/>
<defs><clipPath id="hic"><rect x="804" y="1594" width="453" height="200"/></clipPath><radialGradient id="hg" cx="0.5" cy="0.5" r="0.5"><stop offset="0" stop-color="#8f1b1e"/><stop offset="0.35" stop-color="#d8302a"/><stop offset="0.7" stop-color="#f6a23d"/><stop offset="1" stop-color="#fbe38e"/></radialGradient><radialGradient id="hg2" cx="0.5" cy="0.5" r="0.5"><stop offset="0" stop-color="#fbe38e"/><stop offset="0.6" stop-color="#f6a23d"/><stop offset="1" stop-color="#d8302a"/></radialGradient></defs>
<rect x="804" y="1594" width="453" height="200" fill="#bfe3e8"/>
<g clip-path="url(#hic)">
<path d="M840,1690 Q960,1640 1040,1650 Q1140,1650 1250,1700 L1250,1760 Q1100,1700 980,1700 Q900,1700 850,1730Z" fill="#d6eef1" opacity="0.6"/>
<g fill="none" stroke="#a9cdd3" stroke-width="1.2">
<path d="M835,1594 L925,1794"/>
<path d="M962,1594 L1052,1794"/>
<path d="M1088,1594 L1178,1794"/>
<path d="M1215,1594 L1300,1794"/>
<path d="M804,1700 L1257,1540"/>
<path d="M804,1790 L1257,1580"/>
<path d="M804,1860 L1257,1700"/>
</g>
<ellipse cx="865" cy="1683" rx="5" ry="10" transform="rotate(15 865 1683)" fill="#8f1b1e" stroke="#2a0a0a" stroke-width="3" stroke-linejoin="round"/>
<path d="M881,1662 L888,1650 L900,1645 L908,1652 L908,1665 L900,1670 L884,1670Z" fill="url(#hg2)" stroke="#2a0a0a" stroke-width="3" stroke-linejoin="round"/>
<path d="M971,1656 L985,1642 L996,1650 L1010,1653 L1013,1660 L1002,1666 L988,1670Z" fill="url(#hg2)" stroke="#2a0a0a" stroke-width="3" stroke-linejoin="round"/>
<path d="M1034,1653 L1050,1648 L1066,1643 L1067,1650 L1050,1657 L1036,1663Z" fill="#c0262b" stroke="#2a0a0a" stroke-width="3" stroke-linejoin="round"/>
<ellipse cx="1062" cy="1667" rx="8" ry="7" fill="#c9302c" stroke="#2a0a0a" stroke-width="3" stroke-linejoin="round"/>
<path d="M1072,1655 L1080,1648 L1092,1650 L1100,1646 L1113,1648 L1116,1660 L1105,1668 L1094,1668 L1088,1660 L1078,1662Z" fill="url(#hg)" stroke="#2a0a0a" stroke-width="3" stroke-linejoin="round"/>
<ellipse cx="1085" cy="1676" rx="6" ry="3.5" transform="rotate(-35 1085 1676)" fill="#8f1b1e" stroke="#2a0a0a" stroke-width="3" stroke-linejoin="round"/>
<path d="M1130,1672 L1150,1672 L1180,1673 L1197,1683 L1210,1690 L1207,1703 L1190,1720 L1183,1737 L1177,1747 L1163,1743 L1153,1727 L1137,1710 L1133,1693 L1137,1683Z" fill="url(#hg2)" stroke="#2a0a0a" stroke-width="3" stroke-linejoin="round"/>
<path d="M1150,1682 L1165,1690 L1178,1684 L1172,1700 L1168,1735 L1160,1720 L1158,1700Z" fill="#8f1b1e" opacity="0.9"/>
</g>
<rect x="804" y="1594" width="453" height="200" fill="none" stroke="#15211f" stroke-width="3"/>
<g font-size="14.5" fill="#777777" text-anchor="middle">
<text x="837" y="1588">-160°</text>
<text x="963" y="1588">-158°</text>
<text x="1088" y="1588">-156°</text>
<text x="1215" y="1588">-154°</text>
<text x="924" y="1811">-160°</text>
<text x="1051" y="1811">-158°</text>
<text x="1177" y="1811">-156°</text>
<text x="787" y="1708">22°</text><text x="1273" y="1641">20°</text><text x="1273" y="1775">18°</text>
</g>
<text x="1176" y="1648" font-size="22" font-weight="700" fill="#222" text-anchor="middle" textLength="71" lengthAdjust="spacingAndGlyphs">Hawaii</text>
<text class="ser" transform="translate(850,1757) rotate(-17)" font-size="21" fill="#3f9bd0" textLength="166" lengthAdjust="spacing">Pacific Ocean</text>
<rect x="975" y="1746" width="92" height="10" fill="#d9eff2" stroke="#333" stroke-width="1.3"/><path d="M975,1751 H1067 M998,1746 V1756 M1021,1746 V1756 M1044,1746 V1756" stroke="#333" stroke-width="1.3"/>
<g font-size="14.5" fill="#777777" text-anchor="middle"><text x="975" y="1783">0</text><text x="1020" y="1783">50</text><text x="1065" y="1783">100</text><text x="1115" y="1783">Miles</text></g>
</g>
<g>
<rect x="1915" y="1187" width="486" height="678" rx="34" ry="34" fill="#ffffff"/>
<path d="M2400,1225 V1830" stroke="#e4e6e8" stroke-width="2"/>
<text x="1926" y="1247" font-size="23" font-weight="700" fill="#1c1c1c" textLength="153" lengthAdjust="spacingAndGlyphs">About the Data</text>
<text x="1926" y="1287" font-size="24" fill="#4a4a4a" textLength="198" lengthAdjust="spacingAndGlyphs">This map provides</text>
<text x="1926" y="1319" font-size="24" fill="#4a4a4a" textLength="225" lengthAdjust="spacingAndGlyphs">annual average daily</text>
<text x="1926" y="1350" font-size="24" fill="#4a4a4a" textLength="208" lengthAdjust="spacingAndGlyphs">total solar resource</text>
<text x="1926" y="1382" font-size="24" fill="#4a4a4a" textLength="234" lengthAdjust="spacingAndGlyphs">using 1998-2016 data</text>
<text x="1926" y="1413" font-size="24" fill="#4a4a4a" textLength="195" lengthAdjust="spacingAndGlyphs">(PSM v3) covering</text>
<text x="1926" y="1445" font-size="24" fill="#4a4a4a" textLength="235" lengthAdjust="spacingAndGlyphs">0.038-degree latitude</text>
<text x="1926" y="1475" font-size="24" fill="#4a4a4a" textLength="177" lengthAdjust="spacingAndGlyphs">by 0.038-degree</text>
<text x="1926" y="1507" font-size="24" fill="#4a4a4a" textLength="228" lengthAdjust="spacingAndGlyphs">longitude (nominally</text>
<text x="1926" y="1538" font-size="24" fill="#4a4a4a" textLength="145" lengthAdjust="spacingAndGlyphs">4 km x 4 km).</text>
<text x="1926" y="1570" font-size="24" fill="#4a4a4a" textLength="294" lengthAdjust="spacingAndGlyphs">For more information, visit:</text>
<text x="1921" y="1603" font-size="24" fill="#3b8c9c" textLength="248" lengthAdjust="spacingAndGlyphs">https://nsrdb.nrel.gov</text>
<text x="1927" y="1637" font-size="24" fill="#222" textLength="127" lengthAdjust="spacingAndGlyphs">Email us at:</text>
<text x="2061" y="1637" font-size="24" fill="#3a8fb5" textLength="178" lengthAdjust="spacingAndGlyphs">nsrdb@nrel.gov</text>
<text x="2183" y="1257" font-size="27" fill="#2a2a2a" textLength="126" lengthAdjust="spacingAndGlyphs">kWh/m<tspan font-size="15" dy="-11">2</tspan><tspan dy="11">/Day</tspan></text>
<rect x="2182" y="1269.0" width="59" height="29.6" fill="#8c1a2e"/>
<text x="2256" y="1291.0" font-size="26" fill="#2e2e2e" textLength="72" lengthAdjust="spacingAndGlyphs">≥ 5.75</text>
<rect x="2182" y="1298.4" width="59" height="29.6" fill="#c5202f"/>
<text x="2256" y="1320.4" font-size="26" fill="#2e2e2e" textLength="139" lengthAdjust="spacingAndGlyphs">5.50 to 5.75</text>
<rect x="2182" y="1327.8" width="59" height="29.6" fill="#e21f26"/>
<text x="2256" y="1349.8" font-size="26" fill="#2e2e2e" textLength="139" lengthAdjust="spacingAndGlyphs">5.25 to 5.50</text>
<rect x="2182" y="1357.2" width="59" height="29.6" fill="#f05a29"/>
<text x="2256" y="1379.2" font-size="26" fill="#2e2e2e" textLength="139" lengthAdjust="spacingAndGlyphs">5.00 to 5.25</text>
<rect x="2182" y="1386.6" width="59" height="29.6" fill="#f68c3d"/>
<text x="2256" y="1408.6" font-size="26" fill="#2e2e2e" textLength="139" lengthAdjust="spacingAndGlyphs">4.75 to 5.00</text>
<rect x="2182" y="1416.0" width="59" height="29.6" fill="#f9b24b"/>
<text x="2256" y="1438.0" font-size="26" fill="#2e2e2e" textLength="139" lengthAdjust="spacingAndGlyphs">4.50 to 4.75</text>
<rect x="2182" y="1445.4" width="59" height="29.6" fill="#fdd56d"/>
<text x="2256" y="1467.4" font-size="26" fill="#2e2e2e" textLength="139" lengthAdjust="spacingAndGlyphs">4.25 to 4.50</text>
<rect x="2182" y="1474.8" width="59" height="29.6" fill="#fbeb9b"/>
<text x="2256" y="1496.8" font-size="26" fill="#2e2e2e" textLength="139" lengthAdjust="spacingAndGlyphs">4.00 to 4.25</text>
<rect x="2182" y="1504.2" width="59" height="29.6" fill="#fbf7c2"/>
<text x="2256" y="1526.2" font-size="26" fill="#2e2e2e" textLength="72" lengthAdjust="spacingAndGlyphs">&lt; 4.00</text>
<rect x="2182" y="1269" width="59" height="264.6" fill="none" stroke="#c8c8c0" stroke-width="1.5"/>
<g fill="#1c78bf">
<rect x="1977" y="1702" width="20" height="15.5"/><rect x="1977" y="1771.5" width="20" height="15.5"/>
<rect x="1944" y="1734.5" width="16.5" height="20"/><rect x="2013.5" y="1734.5" width="16.5" height="20"/>
<path d="M1944.0,1702.0 L1965.0,1702.0 L1965.0,1709.5 L1951.5,1723.0 L1944.0,1723.0Z"/>
<rect x="-10.5" y="-4.6" width="21" height="9.2" transform="translate(1964.7,1720.9) rotate(-45)"/>
<rect x="-10.5" y="-1" width="21" height="2" fill="#8fcaf0" transform="translate(1960.4,1716.6) rotate(-45)"/>
<path d="M1944.0,1787.0 L1965.0,1787.0 L1965.0,1779.5 L1951.5,1766.0 L1944.0,1766.0Z"/>
<rect x="-10.5" y="-4.6" width="21" height="9.2" transform="translate(1964.7,1768.1) rotate(45)"/>
<rect x="-10.5" y="-1" width="21" height="2" fill="#8fcaf0" transform="translate(1960.4,1772.4) rotate(45)"/>
<path d="M2030.0,1702.0 L2009.0,1702.0 L2009.0,1709.5 L2022.5,1723.0 L2030.0,1723.0Z"/>
<rect x="-10.5" y="-4.6" width="21" height="9.2" transform="translate(2009.3,1720.9) rotate(45)"/>
<rect x="-10.5" y="-1" width="21" height="2" fill="#8fcaf0" transform="translate(2013.6,1716.6) rotate(45)"/>
<path d="M2030.0,1787.0 L2009.0,1787.0 L2009.0,1779.5 L2022.5,1766.0 L2030.0,1766.0Z"/>
<rect x="-10.5" y="-4.6" width="21" height="9.2" transform="translate(2009.3,1768.1) rotate(-45)"/>
<rect x="-10.5" y="-1" width="21" height="2" fill="#8fcaf0" transform="translate(2013.6,1772.4) rotate(-45)"/>
</g>
<rect x="1980" y="1705.5" width="14" height="1.8" fill="#57aee6"/><rect x="1980" y="1781.7" width="14" height="1.8" fill="#57aee6"/>
<rect x="1947.5" y="1737.5" width="1.8" height="14" fill="#57aee6"/><rect x="2024.7" y="1737.5" width="1.8" height="14" fill="#57aee6"/>
<text x="2041.5" y="1786" font-size="117" font-weight="700" fill="#1c78bf" textLength="326" lengthAdjust="spacingAndGlyphs">NREL</text>
<text x="1943" y="1812" font-size="15.5" fill="#8a8a8a" textLength="419" lengthAdjust="spacingAndGlyphs">NATIONAL RENEWABLE ENERGY LABORATORY</text>
<text x="1983" y="1847" font-size="23" fill="#3f8fb0" textLength="342" lengthAdjust="spacingAndGlyphs">Billy J. Roberts,  February 22, 2018</text>
</g>
</svg></body></html>
